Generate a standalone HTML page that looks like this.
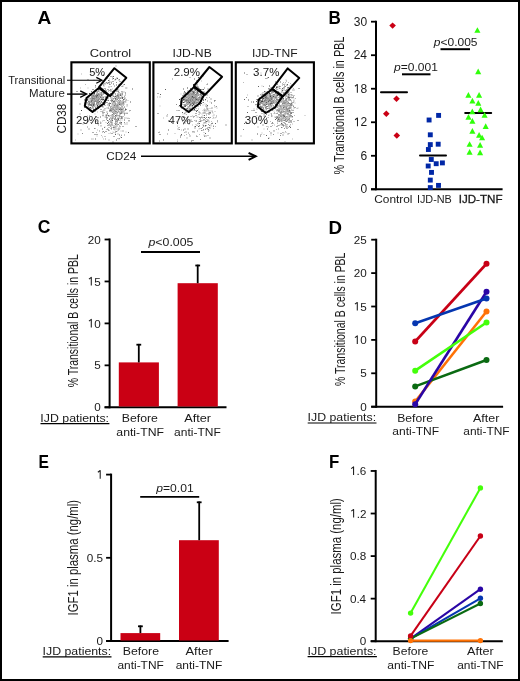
<!DOCTYPE html><html><head><meta charset="utf-8"><style>html,body{margin:0;padding:0;background:#fff;}svg{display:block;will-change:transform;}text{font-family:"Liberation Sans",sans-serif;}</style></head><body>
<svg width="520" height="681" viewBox="0 0 520 681">
<rect x="1" y="1" width="518" height="679" fill="#fff" stroke="#000" stroke-width="2"/>
<text x="37.62" y="23.80" font-size="17.5" textLength="13.80" lengthAdjust="spacingAndGlyphs" fill="#000" font-weight="bold">A</text>
<text x="328.49" y="23.80" font-size="17.5" textLength="12.31" lengthAdjust="spacingAndGlyphs" fill="#000" font-weight="bold">B</text>
<text x="37.70" y="233.40" font-size="17.5" textLength="12.68" lengthAdjust="spacingAndGlyphs" fill="#000" font-weight="bold">C</text>
<text x="328.58" y="233.60" font-size="17.5" textLength="13.50" lengthAdjust="spacingAndGlyphs" fill="#000" font-weight="bold">D</text>
<text x="38.48" y="467.60" font-size="17.5" textLength="10.45" lengthAdjust="spacingAndGlyphs" fill="#000" font-weight="bold">E</text>
<text x="329.00" y="467.60" font-size="17.5" textLength="10.30" lengthAdjust="spacingAndGlyphs" fill="#000" font-weight="bold">F</text>
<line x1="376.00" y1="20.69" x2="376.00" y2="190.30" stroke="#000" stroke-width="2" stroke-linecap="butt"/>
<line x1="371.00" y1="189.30" x2="376.00" y2="189.30" stroke="#000" stroke-width="1.8" stroke-linecap="butt"/>
<text x="360.42" y="193.40" font-size="12" fill="#1a1a1a">0</text>
<line x1="371.00" y1="155.78" x2="376.00" y2="155.78" stroke="#000" stroke-width="1.8" stroke-linecap="butt"/>
<text x="360.48" y="159.88" font-size="12" fill="#1a1a1a">6</text>
<line x1="371.00" y1="122.26" x2="376.00" y2="122.26" stroke="#000" stroke-width="1.8" stroke-linecap="butt"/>
<path d="M357.48,126.36V117.96L355.08,119.76" fill="none" stroke="#1a1a1a" stroke-width="1.05" stroke-linejoin="round"/>
<text x="360.55" y="126.36" font-size="12" fill="#1a1a1a">2</text>
<line x1="371.00" y1="88.73" x2="376.00" y2="88.73" stroke="#000" stroke-width="1.8" stroke-linecap="butt"/>
<path d="M357.36,92.83V84.43L354.96,86.23" fill="none" stroke="#1a1a1a" stroke-width="1.05" stroke-linejoin="round"/>
<text x="360.43" y="92.83" font-size="12" fill="#1a1a1a">8</text>
<line x1="371.00" y1="55.21" x2="376.00" y2="55.21" stroke="#000" stroke-width="1.8" stroke-linecap="butt"/>
<text x="353.64" y="59.31" font-size="12" fill="#1a1a1a">24</text>
<line x1="371.00" y1="21.69" x2="376.00" y2="21.69" stroke="#000" stroke-width="1.8" stroke-linecap="butt"/>
<text x="353.76" y="25.79" font-size="12" fill="#1a1a1a">30</text>
<line x1="371.00" y1="189.30" x2="502.60" y2="189.30" stroke="#000" stroke-width="2" stroke-linecap="butt"/>
<text transform="translate(343.80,174.10) rotate(-90)" x="-0.38" y="0" font-size="14.5" textLength="137.84" lengthAdjust="spacingAndGlyphs" fill="#1a1a1a">% Transitional B cells in PBL</text>
<text x="374.21" y="202.50" font-size="11.5" textLength="38.31" lengthAdjust="spacingAndGlyphs" fill="#1a1a1a">Control</text>
<text x="416.92" y="202.50" font-size="11.5" textLength="34.94" lengthAdjust="spacingAndGlyphs" fill="#1a1a1a">IJD-NB</text>
<text x="458.66" y="202.50" font-size="11.5" textLength="43.83" lengthAdjust="spacingAndGlyphs" fill="#1a1a1a" stroke="#1a1a1a" stroke-width="0.3">IJD-TNF</text>
<text x="394.10" y="70.50" font-size="11.5" textLength="43.73" lengthAdjust="spacingAndGlyphs" fill="#1a1a1a"><tspan font-style="italic">p</tspan>=0.001</text>
<line x1="402.00" y1="74.30" x2="430.50" y2="74.30" stroke="#000" stroke-width="2" stroke-linecap="butt"/>
<text x="433.80" y="45.80" font-size="11.5" textLength="43.71" lengthAdjust="spacingAndGlyphs" fill="#1a1a1a"><tspan font-style="italic">p</tspan>&lt;0.005</text>
<line x1="440.50" y1="49.20" x2="470.00" y2="49.20" stroke="#000" stroke-width="2" stroke-linecap="butt"/>
<line x1="381.00" y1="92.20" x2="407.00" y2="92.20" stroke="#000" stroke-width="2" stroke-linecap="round"/>
<line x1="420.00" y1="155.60" x2="446.00" y2="155.60" stroke="#000" stroke-width="2" stroke-linecap="round"/>
<line x1="465.20" y1="112.90" x2="491.20" y2="112.90" stroke="#000" stroke-width="2" stroke-linecap="round"/>
<path d="M392.6,22.4L395.9,25.6L392.6,28.8L389.3,25.6Z" fill="#ca0014"/>
<path d="M396.5,95.6L399.8,98.8L396.5,102.0L393.2,98.8Z" fill="#ca0014"/>
<path d="M386.3,110.5L389.6,113.7L386.3,116.9L383.0,113.7Z" fill="#ca0014"/>
<path d="M396.8,132.3L400.1,135.5L396.8,138.7L393.5,135.5Z" fill="#ca0014"/>
<rect x="436.15" y="112.95" width="4.9" height="4.9" fill="#0027a6"/>
<rect x="426.65" y="117.55" width="4.9" height="4.9" fill="#0027a6"/>
<rect x="427.85" y="132.35" width="4.9" height="4.9" fill="#0027a6"/>
<rect x="427.85" y="142.15" width="4.9" height="4.9" fill="#0027a6"/>
<rect x="435.75" y="141.75" width="4.9" height="4.9" fill="#0027a6"/>
<rect x="425.95" y="147.05" width="4.9" height="4.9" fill="#0027a6"/>
<rect x="428.85" y="157.05" width="4.9" height="4.9" fill="#0027a6"/>
<rect x="433.75" y="161.25" width="4.9" height="4.9" fill="#0027a6"/>
<rect x="439.95" y="160.45" width="4.9" height="4.9" fill="#0027a6"/>
<rect x="425.75" y="163.55" width="4.9" height="4.9" fill="#0027a6"/>
<rect x="429.05" y="169.95" width="4.9" height="4.9" fill="#0027a6"/>
<rect x="427.85" y="177.65" width="4.9" height="4.9" fill="#0027a6"/>
<rect x="427.85" y="185.15" width="4.9" height="4.9" fill="#0027a6"/>
<rect x="436.05" y="182.95" width="4.9" height="4.9" fill="#0027a6"/>
<path d="M477.40,27.20L480.45,32.85L474.35,32.85Z" fill="#30ff0a"/>
<path d="M478.20,68.60L481.25,74.25L475.15,74.25Z" fill="#30ff0a"/>
<path d="M468.40,92.00L471.45,97.65L465.35,97.65Z" fill="#30ff0a"/>
<path d="M479.10,92.00L482.15,97.65L476.05,97.65Z" fill="#30ff0a"/>
<path d="M472.40,97.80L475.45,103.45L469.35,103.45Z" fill="#30ff0a"/>
<path d="M478.30,100.00L481.35,105.65L475.25,105.65Z" fill="#30ff0a"/>
<path d="M480.60,106.50L483.65,112.15L477.55,112.15Z" fill="#30ff0a"/>
<path d="M472.30,108.50L475.35,114.15L469.25,114.15Z" fill="#30ff0a"/>
<path d="M484.60,112.00L487.65,117.65L481.55,117.65Z" fill="#30ff0a"/>
<path d="M468.50,114.10L471.55,119.75L465.45,119.75Z" fill="#30ff0a"/>
<path d="M472.40,118.10L475.45,123.75L469.35,123.75Z" fill="#30ff0a"/>
<path d="M485.70,123.30L488.75,128.95L482.65,128.95Z" fill="#30ff0a"/>
<path d="M472.40,128.00L475.45,133.65L469.35,133.65Z" fill="#30ff0a"/>
<path d="M479.10,132.10L482.15,137.75L476.05,137.75Z" fill="#30ff0a"/>
<path d="M482.10,134.70L485.15,140.35L479.05,140.35Z" fill="#30ff0a"/>
<path d="M469.60,141.20L472.65,146.85L466.55,146.85Z" fill="#30ff0a"/>
<path d="M480.10,142.10L483.15,147.75L477.05,147.75Z" fill="#30ff0a"/>
<path d="M469.60,149.00L472.65,154.65L466.55,154.65Z" fill="#30ff0a"/>
<path d="M480.10,149.50L483.15,155.15L477.05,155.15Z" fill="#30ff0a"/>
<line x1="109.60" y1="238.50" x2="109.60" y2="408.30" stroke="#000" stroke-width="2" stroke-linecap="butt"/>
<line x1="104.60" y1="407.30" x2="109.60" y2="407.30" stroke="#000" stroke-width="1.8" stroke-linecap="butt"/>
<text x="94.27" y="411.40" font-size="11.7" fill="#1a1a1a">0</text>
<line x1="104.60" y1="365.35" x2="109.60" y2="365.35" stroke="#000" stroke-width="1.8" stroke-linecap="butt"/>
<text x="94.27" y="369.45" font-size="11.7" fill="#1a1a1a">5</text>
<line x1="104.60" y1="323.40" x2="109.60" y2="323.40" stroke="#000" stroke-width="1.8" stroke-linecap="butt"/>
<path d="M91.29,327.50V319.31L88.95,321.06" fill="none" stroke="#1a1a1a" stroke-width="1.05" stroke-linejoin="round"/>
<text x="94.29" y="327.50" font-size="11.7" fill="#1a1a1a">0</text>
<line x1="104.60" y1="281.45" x2="109.60" y2="281.45" stroke="#000" stroke-width="1.8" stroke-linecap="butt"/>
<path d="M91.29,285.55V277.36L88.95,279.12" fill="none" stroke="#1a1a1a" stroke-width="1.05" stroke-linejoin="round"/>
<text x="94.29" y="285.55" font-size="11.7" fill="#1a1a1a">5</text>
<line x1="104.60" y1="239.50" x2="109.60" y2="239.50" stroke="#000" stroke-width="1.8" stroke-linecap="butt"/>
<text x="87.78" y="243.60" font-size="11.7" fill="#1a1a1a">20</text>
<line x1="104.60" y1="407.30" x2="226.50" y2="407.30" stroke="#000" stroke-width="2" stroke-linecap="butt"/>
<text transform="translate(77.80,386.90) rotate(-90)" x="-0.37" y="0" font-size="14.5" textLength="133.01" lengthAdjust="spacingAndGlyphs" fill="#1a1a1a">% Transitional B cells in PBL</text>
<rect x="118.80" y="362.40" width="40.10" height="44.10" fill="#ca0014"/>
<line x1="138.80" y1="362.40" x2="138.80" y2="343.90" stroke="#000" stroke-width="1.8" stroke-linecap="butt"/>
<line x1="136.40" y1="344.70" x2="141.20" y2="344.70" stroke="#000" stroke-width="1.8" stroke-linecap="butt"/>
<rect x="177.60" y="283.20" width="40.20" height="123.30" fill="#ca0014"/>
<line x1="197.70" y1="283.20" x2="197.70" y2="264.70" stroke="#000" stroke-width="1.8" stroke-linecap="butt"/>
<line x1="195.30" y1="265.50" x2="200.10" y2="265.50" stroke="#000" stroke-width="1.8" stroke-linecap="butt"/>
<text x="148.51" y="245.80" font-size="11.5" textLength="44.82" lengthAdjust="spacingAndGlyphs" fill="#1a1a1a"><tspan font-style="italic">p</tspan>&lt;0.005</text>
<line x1="141.00" y1="252.00" x2="200.00" y2="252.00" stroke="#000" stroke-width="1.8" stroke-linecap="butt"/>
<text x="40.39" y="421.80" font-size="11.5" textLength="68.66" lengthAdjust="spacingAndGlyphs" fill="#1a1a1a">IJD patients:</text>
<line x1="40.50" y1="423.70" x2="109.40" y2="423.70" stroke="#000" stroke-width="1.2" stroke-linecap="butt"/>
<text x="121.72" y="422.20" font-size="11.5" textLength="36.15" lengthAdjust="spacingAndGlyphs" fill="#1a1a1a">Before</text>
<text x="116.35" y="435.70" font-size="11.5" textLength="47.63" lengthAdjust="spacingAndGlyphs" fill="#1a1a1a">anti-TNF</text>
<text x="184.24" y="422.20" font-size="11.5" textLength="26.88" lengthAdjust="spacingAndGlyphs" fill="#1a1a1a">After</text>
<text x="174.06" y="435.70" font-size="11.5" textLength="46.71" lengthAdjust="spacingAndGlyphs" fill="#1a1a1a">anti-TNF</text>
<line x1="376.20" y1="238.70" x2="376.20" y2="407.70" stroke="#000" stroke-width="2" stroke-linecap="butt"/>
<line x1="371.20" y1="406.70" x2="376.20" y2="406.70" stroke="#000" stroke-width="1.8" stroke-linecap="butt"/>
<text x="360.27" y="410.80" font-size="11.7" fill="#1a1a1a">0</text>
<line x1="371.20" y1="373.30" x2="376.20" y2="373.30" stroke="#000" stroke-width="1.8" stroke-linecap="butt"/>
<text x="360.27" y="377.40" font-size="11.7" fill="#1a1a1a">5</text>
<line x1="371.20" y1="339.90" x2="376.20" y2="339.90" stroke="#000" stroke-width="1.8" stroke-linecap="butt"/>
<path d="M357.29,344.00V335.81L354.95,337.56" fill="none" stroke="#1a1a1a" stroke-width="1.05" stroke-linejoin="round"/>
<text x="360.29" y="344.00" font-size="11.7" fill="#1a1a1a">0</text>
<line x1="371.20" y1="306.50" x2="376.20" y2="306.50" stroke="#000" stroke-width="1.8" stroke-linecap="butt"/>
<path d="M357.29,310.60V302.41L354.95,304.17" fill="none" stroke="#1a1a1a" stroke-width="1.05" stroke-linejoin="round"/>
<text x="360.29" y="310.60" font-size="11.7" fill="#1a1a1a">5</text>
<line x1="371.20" y1="273.10" x2="376.20" y2="273.10" stroke="#000" stroke-width="1.8" stroke-linecap="butt"/>
<text x="353.78" y="277.20" font-size="11.7" fill="#1a1a1a">20</text>
<line x1="371.20" y1="239.70" x2="376.20" y2="239.70" stroke="#000" stroke-width="1.8" stroke-linecap="butt"/>
<text x="353.78" y="243.80" font-size="11.7" fill="#1a1a1a">25</text>
<line x1="371.20" y1="406.70" x2="503.10" y2="406.70" stroke="#000" stroke-width="2" stroke-linecap="butt"/>
<text transform="translate(344.60,385.70) rotate(-90)" x="-0.37" y="0" font-size="14.5" textLength="133.52" lengthAdjust="spacingAndGlyphs" fill="#1a1a1a">% Transitional B cells in PBL</text>
<text x="307.59" y="421.10" font-size="11.5" textLength="68.56" lengthAdjust="spacingAndGlyphs" fill="#1a1a1a">IJD patients:</text>
<line x1="307.70" y1="423.00" x2="376.50" y2="423.00" stroke="#000" stroke-width="1.2" stroke-linecap="butt"/>
<text x="397.23" y="421.50" font-size="11.5" textLength="35.84" lengthAdjust="spacingAndGlyphs" fill="#1a1a1a">Before</text>
<text x="392.26" y="435.00" font-size="11.5" textLength="46.81" lengthAdjust="spacingAndGlyphs" fill="#1a1a1a">anti-TNF</text>
<text x="473.04" y="421.50" font-size="11.5" textLength="26.37" lengthAdjust="spacingAndGlyphs" fill="#1a1a1a">After</text>
<text x="463.26" y="435.00" font-size="11.5" textLength="46.41" lengthAdjust="spacingAndGlyphs" fill="#1a1a1a">anti-TNF</text>
<line x1="415.20" y1="341.50" x2="486.50" y2="263.75" stroke="#c80016" stroke-width="2.6" stroke-linecap="butt"/>
<circle cx="415.2" cy="341.50" r="3" fill="#c80016"/><circle cx="486.5" cy="263.75" r="3" fill="#c80016"/>
<line x1="415.20" y1="401.49" x2="486.50" y2="311.51" stroke="#ff7205" stroke-width="2.6" stroke-linecap="butt"/>
<circle cx="415.2" cy="401.49" r="3" fill="#ff7205"/><circle cx="486.5" cy="311.51" r="3" fill="#ff7205"/>
<line x1="415.20" y1="386.39" x2="486.50" y2="359.94" stroke="#0a6a12" stroke-width="2.6" stroke-linecap="butt"/>
<circle cx="415.2" cy="386.39" r="3" fill="#0a6a12"/><circle cx="486.5" cy="359.94" r="3" fill="#0a6a12"/>
<line x1="415.20" y1="404.23" x2="486.50" y2="291.80" stroke="#2a06a6" stroke-width="2.6" stroke-linecap="butt"/>
<circle cx="415.2" cy="404.23" r="3" fill="#2a06a6"/><circle cx="486.5" cy="291.80" r="3" fill="#2a06a6"/>
<line x1="415.20" y1="323.20" x2="486.50" y2="298.48" stroke="#0536b0" stroke-width="2.6" stroke-linecap="butt"/>
<circle cx="415.2" cy="323.20" r="3" fill="#0536b0"/><circle cx="486.5" cy="298.48" r="3" fill="#0536b0"/>
<line x1="415.20" y1="370.63" x2="486.50" y2="322.53" stroke="#44ff0a" stroke-width="2.6" stroke-linecap="butt"/>
<circle cx="415.2" cy="370.63" r="3" fill="#44ff0a"/><circle cx="486.5" cy="322.53" r="3" fill="#44ff0a"/>
<line x1="111.10" y1="473.60" x2="111.10" y2="642.00" stroke="#000" stroke-width="2" stroke-linecap="butt"/>
<line x1="106.10" y1="641.00" x2="111.10" y2="641.00" stroke="#000" stroke-width="1.8" stroke-linecap="butt"/>
<text x="96.57" y="645.10" font-size="11.7" fill="#1a1a1a">0</text>
<line x1="106.10" y1="557.80" x2="111.10" y2="557.80" stroke="#000" stroke-width="1.8" stroke-linecap="butt"/>
<text x="86.80" y="561.90" font-size="11.7" fill="#1a1a1a">0.5</text>
<line x1="106.10" y1="474.60" x2="111.10" y2="474.60" stroke="#000" stroke-width="1.8" stroke-linecap="butt"/>
<path d="M100.20,478.70V470.51L97.86,472.27" fill="none" stroke="#1a1a1a" stroke-width="1.05" stroke-linejoin="round"/>
<line x1="106.10" y1="641.00" x2="228.60" y2="641.00" stroke="#000" stroke-width="2" stroke-linecap="butt"/>
<text transform="translate(77.50,614.50) rotate(-90)" x="-1.02" y="0" font-size="14.5" textLength="115.66" lengthAdjust="spacingAndGlyphs" fill="#1a1a1a">IGF1 in plasma (ng/ml)</text>
<rect x="120.50" y="633.10" width="39.70" height="7.40" fill="#ca0014"/>
<line x1="140.40" y1="633.10" x2="140.40" y2="625.50" stroke="#000" stroke-width="1.8" stroke-linecap="butt"/>
<line x1="138.00" y1="626.30" x2="142.80" y2="626.30" stroke="#000" stroke-width="1.8" stroke-linecap="butt"/>
<rect x="179.00" y="540.20" width="39.80" height="100.30" fill="#ca0014"/>
<line x1="199.20" y1="540.20" x2="199.20" y2="501.50" stroke="#000" stroke-width="1.8" stroke-linecap="butt"/>
<line x1="196.80" y1="502.30" x2="201.60" y2="502.30" stroke="#000" stroke-width="1.8" stroke-linecap="butt"/>
<text x="156.30" y="491.90" font-size="11.5" textLength="37.42" lengthAdjust="spacingAndGlyphs" fill="#1a1a1a"><tspan font-style="italic">p</tspan>=0.01</text>
<line x1="140.20" y1="496.90" x2="199.20" y2="496.90" stroke="#000" stroke-width="1.8" stroke-linecap="butt"/>
<text x="42.59" y="655.00" font-size="11.5" textLength="68.56" lengthAdjust="spacingAndGlyphs" fill="#1a1a1a">IJD patients:</text>
<line x1="42.70" y1="656.90" x2="111.50" y2="656.90" stroke="#000" stroke-width="1.2" stroke-linecap="butt"/>
<text x="122.72" y="655.40" font-size="11.5" textLength="36.26" lengthAdjust="spacingAndGlyphs" fill="#1a1a1a">Before</text>
<text x="117.46" y="668.90" font-size="11.5" textLength="46.30" lengthAdjust="spacingAndGlyphs" fill="#1a1a1a">anti-TNF</text>
<text x="185.44" y="655.40" font-size="11.5" textLength="27.28" lengthAdjust="spacingAndGlyphs" fill="#1a1a1a">After</text>
<text x="175.66" y="668.90" font-size="11.5" textLength="46.61" lengthAdjust="spacingAndGlyphs" fill="#1a1a1a">anti-TNF</text>
<line x1="375.70" y1="469.96" x2="375.70" y2="642.20" stroke="#000" stroke-width="2" stroke-linecap="butt"/>
<line x1="370.70" y1="641.20" x2="375.70" y2="641.20" stroke="#000" stroke-width="1.8" stroke-linecap="butt"/>
<text x="359.77" y="645.30" font-size="11.7" fill="#1a1a1a">0</text>
<line x1="370.70" y1="598.64" x2="375.70" y2="598.64" stroke="#000" stroke-width="1.8" stroke-linecap="butt"/>
<text x="349.89" y="602.74" font-size="11.7" fill="#1a1a1a">0.4</text>
<line x1="370.70" y1="556.08" x2="375.70" y2="556.08" stroke="#000" stroke-width="1.8" stroke-linecap="butt"/>
<text x="350.00" y="560.18" font-size="11.7" fill="#1a1a1a">0.8</text>
<line x1="370.70" y1="513.52" x2="375.70" y2="513.52" stroke="#000" stroke-width="1.8" stroke-linecap="butt"/>
<path d="M353.63,517.62V509.43L351.29,511.19" fill="none" stroke="#1a1a1a" stroke-width="1.05" stroke-linejoin="round"/>
<text x="356.63" y="517.62" font-size="11.7" fill="#1a1a1a">.</text>
<text x="359.88" y="517.62" font-size="11.7" fill="#1a1a1a">2</text>
<line x1="370.70" y1="470.96" x2="375.70" y2="470.96" stroke="#000" stroke-width="1.8" stroke-linecap="butt"/>
<path d="M353.57,475.06V466.87L351.23,468.63" fill="none" stroke="#1a1a1a" stroke-width="1.05" stroke-linejoin="round"/>
<text x="356.57" y="475.06" font-size="11.7" fill="#1a1a1a">.</text>
<text x="359.82" y="475.06" font-size="11.7" fill="#1a1a1a">6</text>
<line x1="370.70" y1="641.20" x2="502.80" y2="641.20" stroke="#000" stroke-width="2" stroke-linecap="butt"/>
<text transform="translate(341.00,613.40) rotate(-90)" x="-1.03" y="0" font-size="14.5" textLength="116.27" lengthAdjust="spacingAndGlyphs" fill="#1a1a1a">IGF1 in plasma (ng/ml)</text>
<text x="307.48" y="654.80" font-size="11.5" textLength="69.08" lengthAdjust="spacingAndGlyphs" fill="#1a1a1a">IJD patients:</text>
<line x1="307.60" y1="656.70" x2="376.90" y2="656.70" stroke="#000" stroke-width="1.2" stroke-linecap="butt"/>
<text x="392.53" y="655.20" font-size="11.5" textLength="35.84" lengthAdjust="spacingAndGlyphs" fill="#1a1a1a">Before</text>
<text x="387.26" y="668.70" font-size="11.5" textLength="47.02" lengthAdjust="spacingAndGlyphs" fill="#1a1a1a">anti-TNF</text>
<text x="467.14" y="655.20" font-size="11.5" textLength="26.58" lengthAdjust="spacingAndGlyphs" fill="#1a1a1a">After</text>
<text x="457.16" y="668.70" font-size="11.5" textLength="46.41" lengthAdjust="spacingAndGlyphs" fill="#1a1a1a">anti-TNF</text>
<line x1="410.60" y1="613.10" x2="480.40" y2="487.90" stroke="#44ff0a" stroke-width="2.05" stroke-linecap="butt"/>
<circle cx="410.6" cy="613.10" r="2.7" fill="#44ff0a"/><circle cx="480.4" cy="487.90" r="2.7" fill="#44ff0a"/>
<line x1="410.60" y1="638.70" x2="480.40" y2="589.20" stroke="#2a06a6" stroke-width="2.05" stroke-linecap="butt"/>
<circle cx="410.6" cy="638.70" r="2.7" fill="#2a06a6"/><circle cx="480.4" cy="589.20" r="2.7" fill="#2a06a6"/>
<line x1="410.60" y1="638.70" x2="480.40" y2="598.30" stroke="#0536b0" stroke-width="2.05" stroke-linecap="butt"/>
<circle cx="410.6" cy="638.70" r="2.7" fill="#0536b0"/><circle cx="480.4" cy="598.30" r="2.7" fill="#0536b0"/>
<line x1="410.60" y1="638.70" x2="480.40" y2="603.50" stroke="#0a6a12" stroke-width="2.05" stroke-linecap="butt"/>
<circle cx="410.6" cy="638.70" r="2.7" fill="#0a6a12"/><circle cx="480.4" cy="603.50" r="2.7" fill="#0a6a12"/>
<line x1="410.60" y1="635.90" x2="480.40" y2="536.00" stroke="#c80016" stroke-width="2.05" stroke-linecap="butt"/>
<circle cx="410.6" cy="635.90" r="2.7" fill="#c80016"/><circle cx="480.4" cy="536.00" r="2.7" fill="#c80016"/>
<line x1="410.60" y1="640.60" x2="480.40" y2="640.60" stroke="#ff7205" stroke-width="2.05" stroke-linecap="butt"/>
<circle cx="410.6" cy="640.60" r="2.7" fill="#ff7205"/><circle cx="480.4" cy="640.60" r="2.7" fill="#ff7205"/>
<path d="M96.5 100.5h1v1h-1zM92.5 98h1v1h-1zM91.5 98.5h1v1h-1zM92.5 99.5h1v1h-1zM91 105h1v1h-1zM98 102.5h1v1h-1zM100 97h1v1h-1zM97 102h1v1h-1zM100.5 92.5h1v1h-1zM94 91.5h1v1h-1zM93.5 100.5h1v1h-1zM95 98.5h1v1h-1zM92.5 98.5h1v1h-1zM91 101h1v1h-1zM98 100.5h1v1h-1zM100.5 97h1v1h-1zM90.5 94.5h1v1h-1zM89 110h1v1h-1zM92.5 95h1v1h-1zM93 97.5h1v1h-1zM93.5 97.5h1v1h-1zM101 95h1v1h-1zM101 92h1v1h-1zM98.5 90.5h1v1h-1zM93.5 98.5h1v1h-1zM98 96.5h1v1h-1zM97.5 106h1v1h-1zM107.5 97.5h1v1h-1zM87 99h1v1h-1zM84 99.5h1v1h-1zM97 99h1v1h-1zM90 107h1v1h-1zM98 99.5h1v1h-1zM92.5 95.5h1v1h-1zM96 100.5h1v1h-1zM97.5 104h1v1h-1zM90.5 93.5h1v1h-1zM81 110h1v1h-1zM88.5 101h1v1h-1zM96 99.5h1v1h-1zM93 105h1v1h-1zM96 103.5h1v1h-1zM97 98.5h1v1h-1zM93.5 96.5h1v1h-1zM94.5 100h1v1h-1zM92 111h1v1h-1zM102 99h1v1h-1zM97 106.5h1v1h-1zM95 101h1v1h-1zM88.5 104.5h1v1h-1zM101.5 93.5h1v1h-1zM93.5 97h1v1h-1zM92.5 104.5h1v1h-1zM103.5 92.5h1v1h-1zM97.5 100h1v1h-1zM102.5 103.5h1v1h-1zM89.5 107h1v1h-1zM84.5 102.5h1v1h-1zM101 99h1v1h-1zM104 104h1v1h-1zM91 104h1v1h-1zM93.5 96h1v1h-1zM103 99h1v1h-1zM93.5 100h1v1h-1zM97 104h1v1h-1zM94.5 98.5h1v1h-1zM94 104h1v1h-1zM95.5 100.5h1v1h-1zM97.5 94h1v1h-1zM96 94.5h1v1h-1zM101.5 90h1v1h-1zM92 106.5h1v1h-1zM95.5 95h1v1h-1zM91 96.5h1v1h-1zM87.5 97.5h1v1h-1zM94 101h1v1h-1zM95.5 100h1v1h-1zM103.5 93h1v1h-1zM93.5 99h1v1h-1zM90.5 105h1v1h-1zM89.5 95h1v1h-1zM94 99h1v1h-1zM94 93h1v1h-1zM98.5 99h1v1h-1zM99.5 99h1v1h-1zM93 94.5h1v1h-1zM101 101.5h1v1h-1zM89 93h1v1h-1zM89 102.5h1v1h-1zM100.5 94h1v1h-1zM94 103.5h1v1h-1zM95 95.5h1v1h-1zM92.5 89h1v1h-1zM96.5 102h1v1h-1zM101.5 96.5h1v1h-1zM99 101h1v1h-1zM95 100h1v1h-1zM100 103h1v1h-1zM91.5 102.5h1v1h-1zM96.5 91.5h1v1h-1zM93 104h1v1h-1zM97 96.5h1v1h-1zM93 103.5h1v1h-1zM97 105h1v1h-1zM96 96h1v1h-1zM97 95h1v1h-1z" fill="#444"/>
<path d="M99.5 103.5h1v1h-1zM94 96.5h1v1h-1zM97.5 102h1v1h-1zM89 103h1v1h-1zM84.5 103h1v1h-1zM96 98.5h1v1h-1zM84 107h1v1h-1zM98.5 93.5h1v1h-1zM91 104.5h1v1h-1zM98 90.5h1v1h-1zM98 108h1v1h-1zM96 93.5h1v1h-1zM97 102.5h1v1h-1zM95.5 97.5h1v1h-1zM93.5 96h1v1h-1zM88.5 102h1v1h-1zM103 97.5h1v1h-1zM97 98h1v1h-1zM92.5 97.5h1v1h-1zM97.5 102h1v1h-1zM97.5 101.5h1v1h-1zM91.5 105.5h1v1h-1zM102 106h1v1h-1zM95 96.5h1v1h-1zM95 98h1v1h-1zM90.5 108h1v1h-1zM99 94.5h1v1h-1zM100 96.5h1v1h-1zM92 101.5h1v1h-1zM93.5 102h1v1h-1zM90.5 108h1v1h-1zM94 104h1v1h-1zM93.5 101.5h1v1h-1zM100.5 93.5h1v1h-1zM97 98.5h1v1h-1zM102.5 97.5h1v1h-1zM96 97h1v1h-1zM93 106.5h1v1h-1zM95 101h1v1h-1zM93 97.5h1v1h-1zM96.5 101h1v1h-1zM90 101.5h1v1h-1zM89.5 101h1v1h-1zM95 97h1v1h-1zM101 88.5h1v1h-1zM99.5 96.5h1v1h-1zM96 103.5h1v1h-1zM98 102h1v1h-1zM99 98.5h1v1h-1zM95.5 105.5h1v1h-1zM90 104h1v1h-1zM92.5 96h1v1h-1zM91 91h1v1h-1zM99 98h1v1h-1zM96 98.5h1v1h-1zM94 98.5h1v1h-1zM91.5 98h1v1h-1zM93.5 100.5h1v1h-1zM94 104h1v1h-1zM94 102.5h1v1h-1zM94.5 100h1v1h-1zM88 101h1v1h-1zM90 98h1v1h-1zM91 101.5h1v1h-1zM94.5 100.5h1v1h-1zM87 100h1v1h-1zM99.5 102h1v1h-1zM86.5 103.5h1v1h-1zM94 95.5h1v1h-1zM94 105.5h1v1h-1zM103 97h1v1h-1zM92 97.5h1v1h-1zM106 90.5h1v1h-1zM93 107.5h1v1h-1zM92.5 100h1v1h-1zM98 102.5h1v1h-1zM89.5 105h1v1h-1zM91 99.5h1v1h-1zM93 97h1v1h-1zM91.5 95h1v1h-1zM97 91.5h1v1h-1zM90.5 100.5h1v1h-1zM96.5 95.5h1v1h-1zM86.5 98.5h1v1h-1zM103 92.5h1v1h-1zM96.5 99.5h1v1h-1zM97 94h1v1h-1zM89 103.5h1v1h-1zM95 86.5h1v1h-1zM97.5 93h1v1h-1zM95 107.5h1v1h-1zM92.5 102.5h1v1h-1zM91.5 100h1v1h-1zM98 97.5h1v1h-1zM90.5 99.5h1v1h-1zM97 99h1v1h-1zM88.5 103h1v1h-1zM96.5 100h1v1h-1zM92 98.5h1v1h-1zM97 99.5h1v1h-1zM94 99h1v1h-1zM98 100h1v1h-1zM101.5 104h1v1h-1zM102.5 94h1v1h-1zM92 97h1v1h-1zM98 94h1v1h-1zM101 101h1v1h-1zM90.5 107.5h1v1h-1zM96.5 101h1v1h-1zM91.5 99.5h1v1h-1zM100.5 97.5h1v1h-1zM93.5 101.5h1v1h-1zM101.5 97.5h1v1h-1zM99.5 95.5h1v1h-1zM98.5 93.5h1v1h-1zM94.5 96h1v1h-1zM96.5 100h1v1h-1zM92 103.5h1v1h-1zM96 101h1v1h-1z" fill="#7a7a7a"/>
<path d="M99 99h1v1h-1zM87.5 105.5h1v1h-1zM96 100.5h1v1h-1zM88.5 104h1v1h-1zM90 101h1v1h-1zM93 101.5h1v1h-1zM96.5 99.5h1v1h-1zM97.5 101h1v1h-1zM93 101.5h1v1h-1zM102.5 100h1v1h-1zM93.5 101h1v1h-1zM93.5 100h1v1h-1zM98.5 105h1v1h-1zM102.5 97.5h1v1h-1zM97 104h1v1h-1zM84 100h1v1h-1zM94.5 100h1v1h-1zM100 99h1v1h-1zM91.5 103h1v1h-1zM93.5 96.5h1v1h-1zM92 105h1v1h-1zM94 105h1v1h-1zM104.5 99.5h1v1h-1zM95 99h1v1h-1zM90 98.5h1v1h-1zM93.5 100.5h1v1h-1zM88 102.5h1v1h-1zM92.5 104.5h1v1h-1zM96 100h1v1h-1zM88.5 100h1v1h-1zM93 100h1v1h-1zM95.5 100.5h1v1h-1zM92.5 107.5h1v1h-1zM99.5 96h1v1h-1zM100 100h1v1h-1zM101.5 99.5h1v1h-1zM100 100.5h1v1h-1zM97 94h1v1h-1zM98 102.5h1v1h-1zM88.5 98.5h1v1h-1zM88 96.5h1v1h-1zM101.5 95h1v1h-1zM101 96.5h1v1h-1zM106.5 98h1v1h-1zM101.5 96.5h1v1h-1zM99.5 104.5h1v1h-1zM92.5 100.5h1v1h-1zM95 100.5h1v1h-1zM103.5 96h1v1h-1zM98 98h1v1h-1zM98 102.5h1v1h-1zM94.5 105.5h1v1h-1zM103 104h1v1h-1zM99 92.5h1v1h-1zM104 100.5h1v1h-1zM98.5 100.5h1v1h-1zM99.5 104h1v1h-1zM97.5 93.5h1v1h-1zM96.5 98h1v1h-1zM96.5 99h1v1h-1zM98.5 98h1v1h-1zM91 95.5h1v1h-1zM92.5 99h1v1h-1zM95 97h1v1h-1zM92.5 97h1v1h-1zM99.5 94.5h1v1h-1zM97.5 97.5h1v1h-1zM99 96.5h1v1h-1zM97.5 100.5h1v1h-1zM93 92.5h1v1h-1zM100.5 94h1v1h-1zM101 92.5h1v1h-1zM92.5 94.5h1v1h-1zM96.5 104h1v1h-1zM95 95.5h1v1h-1zM91.5 102h1v1h-1zM88.5 99.5h1v1h-1zM98 95.5h1v1h-1zM100.5 92h1v1h-1zM97 98h1v1h-1zM96.5 102h1v1h-1zM88 106h1v1h-1zM89.5 101.5h1v1h-1zM92 105h1v1h-1zM95.5 95.5h1v1h-1zM97 99h1v1h-1zM87 102.5h1v1h-1zM98.5 95.5h1v1h-1zM91 103.5h1v1h-1zM99 103.5h1v1h-1zM93 97h1v1h-1zM96.5 98.5h1v1h-1zM93.5 99h1v1h-1zM93.5 96h1v1h-1zM92.5 101.5h1v1h-1zM100.5 97h1v1h-1zM91.5 108h1v1h-1zM94 94h1v1h-1zM98 98.5h1v1h-1zM97.5 102h1v1h-1zM97 97.5h1v1h-1zM88 104.5h1v1h-1zM85.5 107h1v1h-1zM93.5 102h1v1h-1zM103 102.5h1v1h-1zM104.5 102.5h1v1h-1zM99.5 104h1v1h-1zM97 103h1v1h-1zM89.5 97.5h1v1h-1zM94.5 104h1v1h-1zM95.5 98.5h1v1h-1zM98 94.5h1v1h-1zM110 97.5h1v1h-1zM102 94h1v1h-1zM85.5 101.5h1v1h-1z" fill="#aaa"/>
<path d="M119.5 107.5h1v1h-1zM115.5 95.5h1v1h-1zM114.5 106.5h1v1h-1zM116.5 89h1v1h-1zM117.5 117.5h1v1h-1zM120.5 104h1v1h-1zM112 107.5h1v1h-1zM122 98h1v1h-1zM115 115.5h1v1h-1zM117.5 109.5h1v1h-1zM120 109h1v1h-1zM119.5 103h1v1h-1zM116 119.5h1v1h-1zM115 121.5h1v1h-1zM115 96h1v1h-1zM114.5 112.5h1v1h-1zM118.5 108h1v1h-1zM115 103.5h1v1h-1zM119.5 122h1v1h-1zM112 115h1v1h-1zM116 113.5h1v1h-1zM121.5 106h1v1h-1zM113.5 98h1v1h-1zM118 119.5h1v1h-1zM115.5 119.5h1v1h-1zM117 107.5h1v1h-1zM115.5 105.5h1v1h-1zM119 104h1v1h-1zM124 119.5h1v1h-1zM114.5 104h1v1h-1zM119 109h1v1h-1zM109 105h1v1h-1zM106.5 111.5h1v1h-1zM118 128h1v1h-1zM115 117.5h1v1h-1zM113.5 105h1v1h-1zM114 119h1v1h-1zM114 100.5h1v1h-1zM110.5 100h1v1h-1zM113.5 113.5h1v1h-1zM123 100.5h1v1h-1zM107 95h1v1h-1zM116 105.5h1v1h-1zM117.5 111.5h1v1h-1zM113.5 109.5h1v1h-1zM119 98.5h1v1h-1zM113.5 116h1v1h-1zM117.5 107h1v1h-1zM112.5 107.5h1v1h-1zM115 134h1v1h-1zM115.5 113h1v1h-1zM115 90h1v1h-1zM112 114h1v1h-1zM118 97h1v1h-1zM115 108.5h1v1h-1zM110 125.5h1v1h-1zM113.5 107.5h1v1h-1zM113.5 102h1v1h-1zM122 93.5h1v1h-1zM117 89h1v1h-1zM116.5 106h1v1h-1zM113 112.5h1v1h-1zM115 115h1v1h-1zM125 108.5h1v1h-1zM114 104.5h1v1h-1zM121 122h1v1h-1zM116 111.5h1v1h-1zM114.5 118h1v1h-1zM121.5 112.5h1v1h-1zM106.5 100h1v1h-1zM116 95.5h1v1h-1zM111 110.5h1v1h-1zM130 101.5h1v1h-1zM119 102h1v1h-1zM123.5 110.5h1v1h-1zM111.5 95h1v1h-1zM121.5 107.5h1v1h-1zM116 109h1v1h-1zM118 102.5h1v1h-1zM109 110.5h1v1h-1zM122.5 102h1v1h-1zM106 99h1v1h-1zM116.5 125.5h1v1h-1zM118 111h1v1h-1zM109 123.5h1v1h-1zM125 109.5h1v1h-1zM117.5 90.5h1v1h-1zM120.5 97.5h1v1h-1zM115 93.5h1v1h-1zM110 93h1v1h-1zM111 100.5h1v1h-1zM119.5 93.5h1v1h-1zM112 114h1v1h-1zM119.5 102h1v1h-1zM107.5 104.5h1v1h-1zM111 118.5h1v1h-1zM118.5 95.5h1v1h-1zM122.5 126h1v1h-1zM114.5 118h1v1h-1zM117.5 115h1v1h-1zM109.5 103h1v1h-1zM110.5 106h1v1h-1zM112.5 109h1v1h-1zM114 97.5h1v1h-1zM125 92.5h1v1h-1zM124.5 101.5h1v1h-1zM113.5 113h1v1h-1zM115 134h1v1h-1zM109.5 94h1v1h-1zM124 98.5h1v1h-1zM119.5 108h1v1h-1zM115 98h1v1h-1zM117 95h1v1h-1zM110.5 120.5h1v1h-1zM124 113.5h1v1h-1zM113.5 112.5h1v1h-1zM121.5 117h1v1h-1zM115.5 107h1v1h-1zM132 88.5h1v1h-1zM121 113h1v1h-1zM124 106.5h1v1h-1zM113.5 125.5h1v1h-1zM118 96.5h1v1h-1zM123.5 112.5h1v1h-1zM117 109h1v1h-1zM117 101.5h1v1h-1zM120 113h1v1h-1zM113 109h1v1h-1zM118 86h1v1h-1zM115.5 110.5h1v1h-1zM124 84h1v1h-1zM114 96.5h1v1h-1zM119 101.5h1v1h-1zM117.5 98h1v1h-1zM117.5 118h1v1h-1zM113.5 105.5h1v1h-1zM113.5 102h1v1h-1zM115.5 115.5h1v1h-1zM117 105.5h1v1h-1zM106.5 117h1v1h-1zM116 105.5h1v1h-1zM120 94.5h1v1h-1zM121 103.5h1v1h-1zM115.5 104.5h1v1h-1zM116 95.5h1v1h-1zM123 103.5h1v1h-1zM113 111.5h1v1h-1zM121 112.5h1v1h-1zM121 122.5h1v1h-1zM115 124h1v1h-1zM119.5 112.5h1v1h-1zM120.5 84h1v1h-1zM108 115h1v1h-1zM115 117h1v1h-1zM113.5 101h1v1h-1zM114 105h1v1h-1zM121 117.5h1v1h-1zM123 99h1v1h-1zM111.5 133h1v1h-1zM118.5 128.5h1v1h-1zM120 95h1v1h-1zM118 118.5h1v1h-1zM115.5 97.5h1v1h-1zM122 97h1v1h-1zM106 118.5h1v1h-1zM114 104.5h1v1h-1zM121.5 95.5h1v1h-1zM118 91.5h1v1h-1zM126.5 113h1v1h-1zM123 102.5h1v1h-1zM121.5 86h1v1h-1zM121.5 118h1v1h-1zM113 127h1v1h-1zM112 100h1v1h-1zM117 118.5h1v1h-1zM113 114.5h1v1h-1zM117 105.5h1v1h-1zM119.5 103.5h1v1h-1zM117 119.5h1v1h-1zM116 120.5h1v1h-1zM116 111.5h1v1h-1zM115 131.5h1v1h-1zM120 122.5h1v1h-1zM110.5 109.5h1v1h-1zM117 104.5h1v1h-1zM125.5 87.5h1v1h-1zM120 98h1v1h-1zM117.5 91h1v1h-1zM115.5 119h1v1h-1zM116 90.5h1v1h-1zM114 107h1v1h-1zM115.5 108.5h1v1h-1zM117.5 94h1v1h-1zM118 110h1v1h-1zM108 100h1v1h-1zM115 102.5h1v1h-1zM121.5 91h1v1h-1zM115 111h1v1h-1zM110.5 122h1v1h-1zM121.5 111.5h1v1h-1zM124 96h1v1h-1zM120.5 110.5h1v1h-1zM128.5 120h1v1h-1zM105 96.5h1v1h-1zM102 111.5h1v1h-1zM113.5 136h1v1h-1zM98 107.5h1v1h-1zM95 138.5h1v1h-1zM105.5 115.5h1v1h-1zM104 127h1v1h-1zM109.5 110h1v1h-1zM110 108.5h1v1h-1zM100 96.5h1v1h-1zM111 108h1v1h-1zM110 103h1v1h-1zM107 123h1v1h-1zM108 107.5h1v1h-1zM97.5 117h1v1h-1zM110.5 110.5h1v1h-1zM129.5 110h1v1h-1zM122.5 130.5h1v1h-1zM109 119h1v1h-1zM88.5 104h1v1h-1zM107.5 89h1v1h-1zM116.5 121h1v1h-1zM98 123h1v1h-1zM107 120h1v1h-1zM102.5 115h1v1h-1zM102 128.5h1v1h-1zM107.5 125h1v1h-1zM108 122h1v1h-1zM111 127.5h1v1h-1zM119.5 116h1v1h-1zM112 91h1v1h-1zM88 120.5h1v1h-1zM118 106h1v1h-1zM105.5 131h1v1h-1zM95.5 116h1v1h-1zM106.5 102h1v1h-1zM108.5 103h1v1h-1zM103.5 112h1v1h-1zM121 137h1v1h-1zM107 120h1v1h-1zM96.5 134h1v1h-1zM103.5 109.5h1v1h-1zM116 139.5h1v1h-1zM100.5 109h1v1h-1zM111.5 108h1v1h-1zM113 96h1v1h-1zM117.5 120h1v1h-1zM111.5 118.5h1v1h-1zM117 96.5h1v1h-1zM94 118h1v1h-1zM113 101h1v1h-1zM112.5 141.5h1v1h-1zM98 93.5h1v1h-1zM112 120h1v1h-1zM117 122h1v1h-1zM114 97h1v1h-1zM100 122.5h1v1h-1zM135.5 126h1v1h-1zM114 101h1v1h-1zM101.5 98.5h1v1h-1zM95 121h1v1h-1zM108 129.5h1v1h-1zM113.5 92.5h1v1h-1zM128 132h1v1h-1zM105.5 97h1v1h-1zM116 98.5h1v1h-1zM110 107h1v1h-1zM100 116.5h1v1h-1zM98 89h1v1h-1zM95 122.5h1v1h-1zM108.5 82h1v1h-1zM113 76h1v1h-1zM115 79h1v1h-1zM105 89.5h1v1h-1zM116.5 77.5h1v1h-1zM107.5 82.5h1v1h-1zM112.5 81h1v1h-1zM109.5 90h1v1h-1zM118.5 79.5h1v1h-1zM103 84.5h1v1h-1zM116 84.5h1v1h-1zM113 83.5h1v1h-1zM108.5 86.5h1v1h-1zM111 82.5h1v1h-1zM109 75h1v1h-1zM119.5 81h1v1h-1zM113 78h1v1h-1zM110.5 76h1v1h-1zM104.5 83.5h1v1h-1zM108 80h1v1h-1zM104.5 88h1v1h-1zM108.5 124h1v1h-1zM88.5 128.5h1v1h-1zM119 115.5h1v1h-1zM94.5 134h1v1h-1zM107.5 76h1v1h-1zM95.5 120.5h1v1h-1zM97.5 102h1v1h-1zM79.5 103.5h1v1h-1zM93 109h1v1h-1zM113.5 112.5h1v1h-1zM76.5 91h1v1h-1zM92.5 132h1v1h-1zM99 79.5h1v1h-1zM106 115h1v1h-1zM121 109h1v1h-1zM102.5 106.5h1v1h-1zM119 134.5h1v1h-1zM103 74.5h1v1h-1zM90.5 122h1v1h-1zM108 75.5h1v1h-1zM120 100h1v1h-1zM117 78h1v1h-1z" fill="#606060"/>
<path d="M117 121h1v1h-1zM114 118.5h1v1h-1zM115.5 108.5h1v1h-1zM116 123h1v1h-1zM125.5 117.5h1v1h-1zM118.5 105.5h1v1h-1zM117.5 107h1v1h-1zM125 94.5h1v1h-1zM106.5 117.5h1v1h-1zM120 110h1v1h-1zM109.5 121h1v1h-1zM122.5 107.5h1v1h-1zM120.5 101.5h1v1h-1zM115 102.5h1v1h-1zM121.5 111h1v1h-1zM117.5 133.5h1v1h-1zM113.5 128.5h1v1h-1zM120 107.5h1v1h-1zM123.5 84h1v1h-1zM120.5 97h1v1h-1zM112.5 112h1v1h-1zM118.5 120h1v1h-1zM116 109h1v1h-1zM114.5 113h1v1h-1zM113 112h1v1h-1zM117.5 105h1v1h-1zM115.5 111h1v1h-1zM114 85.5h1v1h-1zM110.5 111h1v1h-1zM112 114.5h1v1h-1zM121 105h1v1h-1zM110.5 109h1v1h-1zM113 98.5h1v1h-1zM116.5 96h1v1h-1zM106 115.5h1v1h-1zM124 122h1v1h-1zM115 120.5h1v1h-1zM119 101h1v1h-1zM124 134.5h1v1h-1zM127.5 118h1v1h-1zM111.5 107.5h1v1h-1zM121 112.5h1v1h-1zM119 112.5h1v1h-1zM111 122.5h1v1h-1zM118 100h1v1h-1zM115.5 100.5h1v1h-1zM108 107h1v1h-1zM121 116h1v1h-1zM111.5 99.5h1v1h-1zM126.5 123.5h1v1h-1zM117 112h1v1h-1zM112 108.5h1v1h-1zM117.5 88.5h1v1h-1zM117 107.5h1v1h-1zM117.5 115.5h1v1h-1zM121.5 103h1v1h-1zM118.5 102.5h1v1h-1zM113 107.5h1v1h-1zM111 98.5h1v1h-1zM111.5 94.5h1v1h-1zM109.5 115h1v1h-1zM117.5 115.5h1v1h-1zM122.5 116h1v1h-1zM116 97.5h1v1h-1zM121 101.5h1v1h-1zM118.5 107.5h1v1h-1zM123 108.5h1v1h-1zM119.5 122.5h1v1h-1zM118 124h1v1h-1zM120.5 108h1v1h-1zM119 122.5h1v1h-1zM115.5 111.5h1v1h-1zM120.5 113h1v1h-1zM119.5 100h1v1h-1zM111.5 102.5h1v1h-1zM109.5 109.5h1v1h-1zM114 127h1v1h-1zM119 115h1v1h-1zM109 104h1v1h-1zM104.5 136h1v1h-1zM118.5 128.5h1v1h-1zM111.5 124h1v1h-1zM118 95h1v1h-1zM123 108.5h1v1h-1zM111 109h1v1h-1zM125 100.5h1v1h-1zM113 94.5h1v1h-1zM121 135h1v1h-1zM120.5 105h1v1h-1zM114.5 103.5h1v1h-1zM120.5 93h1v1h-1zM118 106h1v1h-1zM116.5 121.5h1v1h-1zM113.5 111h1v1h-1zM115 103h1v1h-1zM119 138h1v1h-1zM120.5 108.5h1v1h-1zM117 99h1v1h-1zM115.5 103.5h1v1h-1zM124 114.5h1v1h-1zM117.5 138h1v1h-1zM113.5 100.5h1v1h-1zM108.5 130h1v1h-1zM108.5 116h1v1h-1zM115 123.5h1v1h-1zM111.5 109.5h1v1h-1zM112 118h1v1h-1zM119 79h1v1h-1zM113 96h1v1h-1zM113 107h1v1h-1zM126 109h1v1h-1zM112 102.5h1v1h-1zM119.5 116h1v1h-1zM116.5 105h1v1h-1zM116.5 89.5h1v1h-1zM114.5 123h1v1h-1zM112.5 98h1v1h-1zM119.5 100.5h1v1h-1zM122.5 103h1v1h-1zM116 131h1v1h-1zM116.5 124h1v1h-1zM115.5 103.5h1v1h-1zM112.5 111h1v1h-1zM115 99h1v1h-1zM115.5 121h1v1h-1zM110.5 124.5h1v1h-1zM122 92.5h1v1h-1zM107 113h1v1h-1zM111 100.5h1v1h-1zM116.5 115h1v1h-1zM120.5 97.5h1v1h-1zM121.5 94h1v1h-1zM116 115.5h1v1h-1zM113.5 109h1v1h-1zM105.5 114.5h1v1h-1zM113 117.5h1v1h-1zM108 120.5h1v1h-1zM117.5 93h1v1h-1zM115.5 99.5h1v1h-1zM121.5 110h1v1h-1zM112.5 103.5h1v1h-1zM113 111.5h1v1h-1zM116.5 121h1v1h-1zM112 104h1v1h-1zM126 99.5h1v1h-1zM122 100.5h1v1h-1zM113.5 129h1v1h-1zM118 109.5h1v1h-1zM114 110h1v1h-1zM118 97.5h1v1h-1zM115.5 103.5h1v1h-1zM112 95h1v1h-1zM116.5 96.5h1v1h-1zM121 112h1v1h-1zM122 109h1v1h-1zM119.5 114h1v1h-1zM118.5 111h1v1h-1zM115.5 119h1v1h-1zM116.5 105.5h1v1h-1zM126.5 105.5h1v1h-1zM112 112h1v1h-1zM119 97h1v1h-1zM116.5 107.5h1v1h-1zM113.5 102.5h1v1h-1zM124.5 123.5h1v1h-1zM126.5 112.5h1v1h-1zM117 124h1v1h-1zM110.5 128h1v1h-1zM117 103.5h1v1h-1zM123.5 97h1v1h-1zM118.5 94.5h1v1h-1zM110.5 118h1v1h-1zM119 117.5h1v1h-1zM116 116h1v1h-1zM118.5 94.5h1v1h-1zM112 116.5h1v1h-1zM111.5 99h1v1h-1zM110 96h1v1h-1zM116 82h1v1h-1zM118 100h1v1h-1zM112 108.5h1v1h-1zM112.5 111.5h1v1h-1zM94.5 94.5h1v1h-1zM94.5 128h1v1h-1zM112.5 117.5h1v1h-1zM119 125.5h1v1h-1zM96.5 117h1v1h-1zM106.5 107.5h1v1h-1zM114.5 110h1v1h-1zM94 128h1v1h-1zM98 124.5h1v1h-1zM111 89.5h1v1h-1zM99 106.5h1v1h-1zM114 110.5h1v1h-1zM100.5 122.5h1v1h-1zM110.5 120h1v1h-1zM84.5 116h1v1h-1zM105 102.5h1v1h-1zM105.5 117h1v1h-1zM102.5 113.5h1v1h-1zM118 129.5h1v1h-1zM109 102.5h1v1h-1zM89 115.5h1v1h-1zM108.5 139.5h1v1h-1zM124 96h1v1h-1zM111 128.5h1v1h-1zM101 105.5h1v1h-1zM100 103h1v1h-1zM106.5 92.5h1v1h-1zM90.5 102.5h1v1h-1zM107 114.5h1v1h-1zM103 131h1v1h-1zM111.5 116.5h1v1h-1zM107 83h1v1h-1zM112.5 108.5h1v1h-1zM124.5 98.5h1v1h-1zM104.5 108h1v1h-1zM122.5 85.5h1v1h-1zM114 106.5h1v1h-1zM104.5 105h1v1h-1zM110.5 91h1v1h-1zM95 107h1v1h-1zM117.5 107h1v1h-1zM112 123.5h1v1h-1zM99 130.5h1v1h-1zM102 131.5h1v1h-1zM105 138.5h1v1h-1zM80.5 129.5h1v1h-1zM107 128.5h1v1h-1zM117 120h1v1h-1zM95.5 119.5h1v1h-1zM106 102h1v1h-1zM123.5 91.5h1v1h-1zM108.5 127h1v1h-1zM109.5 115h1v1h-1zM103.5 120h1v1h-1zM114.5 101.5h1v1h-1zM112 117.5h1v1h-1zM109 104h1v1h-1zM121 124h1v1h-1zM102.5 112.5h1v1h-1zM115.5 128.5h1v1h-1zM113 90h1v1h-1zM117 109h1v1h-1zM100.5 125.5h1v1h-1zM96.5 94h1v1h-1zM100.5 84.5h1v1h-1zM112 78.5h1v1h-1zM106 82h1v1h-1zM114.5 79.5h1v1h-1zM110.5 81.5h1v1h-1zM102 91.5h1v1h-1zM103.5 83h1v1h-1zM109 84h1v1h-1zM109 80.5h1v1h-1zM109 82.5h1v1h-1zM105.5 82.5h1v1h-1zM110 89h1v1h-1zM95.5 91h1v1h-1zM115.5 65.5h1v1h-1zM103.5 85.5h1v1h-1zM115.5 78.5h1v1h-1zM112 76.5h1v1h-1zM106.5 129h1v1h-1zM102 102h1v1h-1zM102.5 110.5h1v1h-1zM85.5 101h1v1h-1zM92.5 138.5h1v1h-1zM92 96.5h1v1h-1zM82.5 123.5h1v1h-1zM115.5 105.5h1v1h-1zM98.5 73.5h1v1h-1zM95 85h1v1h-1zM87.5 79h1v1h-1zM82 133h1v1h-1zM111.5 122h1v1h-1zM108 90.5h1v1h-1zM100 96h1v1h-1zM94.5 91.5h1v1h-1zM87 126.5h1v1h-1zM100.5 111h1v1h-1zM79.5 113.5h1v1h-1zM112 116h1v1h-1zM86.5 102h1v1h-1zM104 132h1v1h-1z" fill="#909090"/>
<path d="M112.5 115h1v1h-1zM112 124h1v1h-1zM127.5 117.5h1v1h-1zM114.5 107h1v1h-1zM117 121.5h1v1h-1zM111 117.5h1v1h-1zM118 110h1v1h-1zM126 99h1v1h-1zM116 113.5h1v1h-1zM112 110h1v1h-1zM111 120.5h1v1h-1zM125.5 131.5h1v1h-1zM115 116.5h1v1h-1zM121.5 108h1v1h-1zM123 111h1v1h-1zM113.5 111h1v1h-1zM115.5 100.5h1v1h-1zM111.5 104h1v1h-1zM120 121.5h1v1h-1zM117 108.5h1v1h-1zM112.5 117h1v1h-1zM126.5 87.5h1v1h-1zM119.5 116.5h1v1h-1zM110 107.5h1v1h-1zM112 119h1v1h-1zM125.5 113h1v1h-1zM114.5 100h1v1h-1zM112 88.5h1v1h-1zM111 125.5h1v1h-1zM111.5 115h1v1h-1zM115.5 107.5h1v1h-1zM117.5 109.5h1v1h-1zM115 127.5h1v1h-1zM108.5 104.5h1v1h-1zM126.5 122h1v1h-1zM120 118h1v1h-1zM111 117.5h1v1h-1zM112.5 106.5h1v1h-1zM108.5 124h1v1h-1zM107.5 107.5h1v1h-1zM113.5 116.5h1v1h-1zM110 111h1v1h-1zM118 106h1v1h-1zM114.5 106h1v1h-1zM115.5 103.5h1v1h-1zM113 106h1v1h-1zM115 116.5h1v1h-1zM118.5 100.5h1v1h-1zM123 100h1v1h-1zM107.5 99.5h1v1h-1zM124.5 112.5h1v1h-1zM116 120h1v1h-1zM120.5 102h1v1h-1zM113 106.5h1v1h-1zM122 103.5h1v1h-1zM119.5 102h1v1h-1zM107.5 103.5h1v1h-1zM118 104.5h1v1h-1zM108.5 106h1v1h-1zM120 121.5h1v1h-1zM120.5 124h1v1h-1zM116.5 106.5h1v1h-1zM120 119.5h1v1h-1zM122.5 111.5h1v1h-1zM123 105h1v1h-1zM121 123.5h1v1h-1zM121.5 92h1v1h-1zM116 98h1v1h-1zM117 118.5h1v1h-1zM116.5 121.5h1v1h-1zM126.5 104h1v1h-1zM119.5 100.5h1v1h-1zM121 103.5h1v1h-1zM112.5 110h1v1h-1zM115.5 116h1v1h-1zM114 113.5h1v1h-1zM118 120h1v1h-1zM109 125h1v1h-1zM112 121.5h1v1h-1zM118 127.5h1v1h-1zM115 126h1v1h-1zM112.5 110h1v1h-1zM122 91h1v1h-1zM119.5 110.5h1v1h-1zM118.5 138.5h1v1h-1zM124 95.5h1v1h-1zM111 108.5h1v1h-1zM117 130.5h1v1h-1zM121 106.5h1v1h-1zM116.5 95.5h1v1h-1zM110.5 111.5h1v1h-1zM120 101.5h1v1h-1zM119 126h1v1h-1zM121.5 119.5h1v1h-1zM120.5 100.5h1v1h-1zM103 138.5h1v1h-1zM118 84h1v1h-1zM109 108.5h1v1h-1zM112.5 106h1v1h-1zM114.5 129.5h1v1h-1zM123 100h1v1h-1zM111.5 105h1v1h-1zM119 98.5h1v1h-1zM120 100.5h1v1h-1zM120 112h1v1h-1zM118.5 127.5h1v1h-1zM121 105h1v1h-1zM102 136.5h1v1h-1zM125 97.5h1v1h-1zM119 92h1v1h-1zM112.5 104h1v1h-1zM119.5 115.5h1v1h-1zM118.5 107.5h1v1h-1zM114 97h1v1h-1zM120.5 104h1v1h-1zM124 117.5h1v1h-1zM124 106h1v1h-1zM119 122.5h1v1h-1zM114 106.5h1v1h-1zM117 113.5h1v1h-1zM119 113h1v1h-1zM115 109.5h1v1h-1zM110.5 115.5h1v1h-1zM113.5 125.5h1v1h-1zM123.5 110h1v1h-1zM121.5 119.5h1v1h-1zM117 100.5h1v1h-1zM118.5 89.5h1v1h-1zM110 117h1v1h-1zM114.5 112.5h1v1h-1zM122 116h1v1h-1zM115 132.5h1v1h-1zM120.5 104.5h1v1h-1zM115.5 107.5h1v1h-1zM118.5 95.5h1v1h-1zM121 95h1v1h-1zM114 102.5h1v1h-1zM122 104.5h1v1h-1zM112.5 111.5h1v1h-1zM112.5 109.5h1v1h-1zM116 126.5h1v1h-1zM119 97h1v1h-1zM127 104.5h1v1h-1zM115 102h1v1h-1zM117.5 115h1v1h-1zM110.5 106.5h1v1h-1zM118 104h1v1h-1zM110.5 93.5h1v1h-1zM114.5 109h1v1h-1zM111.5 96.5h1v1h-1zM114 98h1v1h-1zM121 86h1v1h-1zM121.5 110h1v1h-1zM117.5 109.5h1v1h-1zM113 105h1v1h-1zM127.5 100h1v1h-1zM111 121h1v1h-1zM125.5 101.5h1v1h-1zM109.5 118.5h1v1h-1zM118 101.5h1v1h-1zM117 123.5h1v1h-1zM121.5 91.5h1v1h-1zM118 120h1v1h-1zM112 93h1v1h-1zM121 83.5h1v1h-1zM111.5 115.5h1v1h-1zM118 110.5h1v1h-1zM123.5 104h1v1h-1zM122.5 100.5h1v1h-1zM112.5 116h1v1h-1zM110.5 120h1v1h-1zM115.5 111.5h1v1h-1zM111 114.5h1v1h-1zM116.5 101h1v1h-1zM119.5 98h1v1h-1zM116 120h1v1h-1zM120 126h1v1h-1zM117 119h1v1h-1zM113.5 132h1v1h-1zM118 128.5h1v1h-1zM106 114h1v1h-1zM109.5 124h1v1h-1zM123.5 103h1v1h-1zM121 106h1v1h-1zM117.5 106.5h1v1h-1zM115.5 112h1v1h-1zM117 102h1v1h-1zM117 101.5h1v1h-1zM119 108h1v1h-1zM112.5 115.5h1v1h-1zM115.5 107.5h1v1h-1zM112 104h1v1h-1zM114 104h1v1h-1zM113 114h1v1h-1zM117 97h1v1h-1zM120 109.5h1v1h-1zM116 112.5h1v1h-1zM119.5 111.5h1v1h-1zM112 125h1v1h-1zM124 101h1v1h-1zM112 101h1v1h-1zM111.5 127h1v1h-1zM121 96.5h1v1h-1zM117.5 128.5h1v1h-1zM123.5 103h1v1h-1zM129 110.5h1v1h-1zM113.5 104h1v1h-1zM118.5 106.5h1v1h-1zM116 116h1v1h-1zM119.5 127.5h1v1h-1zM117 122h1v1h-1zM114.5 106h1v1h-1zM116.5 113h1v1h-1zM109 118h1v1h-1zM110.5 111.5h1v1h-1zM112.5 131.5h1v1h-1zM118.5 97h1v1h-1zM113 112h1v1h-1zM120.5 130.5h1v1h-1zM111 120h1v1h-1zM94.5 109.5h1v1h-1zM115.5 105.5h1v1h-1zM116 123.5h1v1h-1zM105.5 122h1v1h-1zM101 135h1v1h-1zM95 111h1v1h-1zM114 118.5h1v1h-1zM106.5 118h1v1h-1zM113.5 127.5h1v1h-1zM116.5 128.5h1v1h-1zM108.5 133h1v1h-1zM97 111.5h1v1h-1zM87 115.5h1v1h-1zM128.5 121h1v1h-1zM112 105.5h1v1h-1zM102.5 115.5h1v1h-1zM97.5 117.5h1v1h-1zM111.5 114.5h1v1h-1zM100.5 125h1v1h-1zM115.5 125h1v1h-1zM104.5 109.5h1v1h-1zM115.5 118.5h1v1h-1zM129 118h1v1h-1zM115 126.5h1v1h-1zM93.5 97.5h1v1h-1zM109.5 123.5h1v1h-1zM104.5 116.5h1v1h-1zM114.5 104.5h1v1h-1zM97 129.5h1v1h-1zM102 120.5h1v1h-1zM96 116h1v1h-1zM106 97.5h1v1h-1zM94.5 113.5h1v1h-1zM110.5 125h1v1h-1zM110 132.5h1v1h-1zM120 136.5h1v1h-1zM112 96.5h1v1h-1zM104.5 126.5h1v1h-1zM102.5 98h1v1h-1zM101.5 111h1v1h-1zM98.5 93h1v1h-1zM111 86h1v1h-1zM108 107h1v1h-1zM100 121.5h1v1h-1zM97.5 123.5h1v1h-1zM109 124.5h1v1h-1zM96 132h1v1h-1zM111 123h1v1h-1zM91 138.5h1v1h-1zM112.5 108h1v1h-1zM104.5 97.5h1v1h-1zM105 77h1v1h-1zM110 84h1v1h-1zM102 94.5h1v1h-1zM109 75h1v1h-1zM109 78.5h1v1h-1zM110.5 86h1v1h-1zM107 78h1v1h-1zM102.5 88h1v1h-1zM93.5 79.5h1v1h-1zM119 83.5h1v1h-1zM102.5 105.5h1v1h-1zM77.5 133.5h1v1h-1zM120 121.5h1v1h-1zM80 87.5h1v1h-1zM92.5 93.5h1v1h-1zM96.5 135.5h1v1h-1zM94.5 72.5h1v1h-1zM95 98.5h1v1h-1zM78.5 119.5h1v1h-1zM111 93h1v1h-1zM90.5 72.5h1v1h-1zM110.5 97h1v1h-1zM106 76h1v1h-1zM114 114h1v1h-1zM75 139.5h1v1h-1zM87.5 87.5h1v1h-1zM121 134.5h1v1h-1zM93 107h1v1h-1zM85 84h1v1h-1zM107 75h1v1h-1zM81 73.5h1v1h-1zM97 78h1v1h-1zM89 97.5h1v1h-1z" fill="#bbbbbb"/>
<path d="M200.5 91.5h1v1h-1zM190.5 105.5h1v1h-1zM194.5 94h1v1h-1zM183.5 99.5h1v1h-1zM196 99h1v1h-1zM189.5 103.5h1v1h-1zM188.5 99.5h1v1h-1zM189.5 94.5h1v1h-1zM196 99.5h1v1h-1zM194.5 105.5h1v1h-1zM189.5 98h1v1h-1zM193 96.5h1v1h-1zM195.5 103h1v1h-1zM201.5 89h1v1h-1zM192.5 98.5h1v1h-1zM190.5 104h1v1h-1zM195 97h1v1h-1zM196 96h1v1h-1zM183.5 98.5h1v1h-1zM194 101h1v1h-1zM187.5 100.5h1v1h-1zM184.5 104h1v1h-1zM198.5 97h1v1h-1zM192.5 103h1v1h-1zM192.5 97h1v1h-1zM183 102h1v1h-1zM194 96h1v1h-1zM194 88.5h1v1h-1zM183 99h1v1h-1zM186.5 96.5h1v1h-1zM199.5 98h1v1h-1zM188 102.5h1v1h-1zM191 101h1v1h-1zM191.5 98h1v1h-1zM190.5 97.5h1v1h-1zM192.5 102h1v1h-1zM191.5 98h1v1h-1zM190.5 95h1v1h-1zM189 90.5h1v1h-1zM193 100.5h1v1h-1zM187.5 100.5h1v1h-1zM193 99h1v1h-1zM198.5 97h1v1h-1zM194 97.5h1v1h-1zM193.5 102.5h1v1h-1zM190 102h1v1h-1zM194 101h1v1h-1zM189.5 103h1v1h-1zM191 99h1v1h-1zM189 108.5h1v1h-1zM190 99h1v1h-1zM191 100h1v1h-1zM192 105h1v1h-1zM184.5 98.5h1v1h-1zM193 84h1v1h-1zM194.5 99h1v1h-1zM185.5 99.5h1v1h-1zM183.5 96h1v1h-1zM188.5 97.5h1v1h-1zM186 102.5h1v1h-1zM194 102.5h1v1h-1zM192.5 96h1v1h-1zM194.5 97.5h1v1h-1zM187 93.5h1v1h-1zM189 105.5h1v1h-1zM190.5 101h1v1h-1zM183.5 93.5h1v1h-1zM193 99h1v1h-1zM187.5 106.5h1v1h-1zM195.5 98h1v1h-1zM194.5 96.5h1v1h-1zM191.5 98.5h1v1h-1zM186 99h1v1h-1zM197 92.5h1v1h-1zM193 104h1v1h-1zM194 96.5h1v1h-1zM190 104h1v1h-1zM200 89h1v1h-1zM190.5 96h1v1h-1zM190.5 100.5h1v1h-1zM195 99h1v1h-1zM188.5 93h1v1h-1zM192.5 95h1v1h-1zM180.5 105h1v1h-1zM183.5 102h1v1h-1zM190 97.5h1v1h-1zM194.5 95.5h1v1h-1zM191.5 94h1v1h-1zM187 87.5h1v1h-1zM184.5 101h1v1h-1zM200 91h1v1h-1zM190.5 104h1v1h-1zM197 91.5h1v1h-1zM200.5 101h1v1h-1zM203.5 91.5h1v1h-1zM185 100h1v1h-1zM187.5 108.5h1v1h-1zM193.5 101h1v1h-1zM194.5 97.5h1v1h-1zM185 97h1v1h-1zM198 100.5h1v1h-1zM203 100h1v1h-1zM193 97.5h1v1h-1zM195.5 94.5h1v1h-1zM192.5 91h1v1h-1zM193 91h1v1h-1zM192.5 103h1v1h-1zM188.5 100.5h1v1h-1zM196.5 85.5h1v1h-1zM197 98.5h1v1h-1zM179 99h1v1h-1zM188.5 102h1v1h-1zM201 95.5h1v1h-1zM188.5 97.5h1v1h-1zM179 105h1v1h-1zM193.5 101h1v1h-1zM189.5 98h1v1h-1zM199 97h1v1h-1zM185 92.5h1v1h-1zM188 98h1v1h-1zM188 94.5h1v1h-1zM185 96.5h1v1h-1zM193.5 92h1v1h-1zM189 99h1v1h-1zM194 93.5h1v1h-1zM194.5 101.5h1v1h-1zM188.5 99.5h1v1h-1zM192 93.5h1v1h-1zM181.5 100.5h1v1h-1zM197.5 94.5h1v1h-1zM199 99h1v1h-1zM197.5 99h1v1h-1zM192 96h1v1h-1zM193.5 104.5h1v1h-1zM188.5 98h1v1h-1zM195.5 88h1v1h-1zM194.5 96.5h1v1h-1zM194 109h1v1h-1zM192 100.5h1v1h-1zM185.5 105h1v1h-1zM193 92h1v1h-1zM193 93h1v1h-1zM189 98.5h1v1h-1zM191.5 90.5h1v1h-1zM200 91h1v1h-1zM194 100.5h1v1h-1zM193 98.5h1v1h-1zM183.5 108h1v1h-1zM192 92.5h1v1h-1zM196 93.5h1v1h-1zM189.5 102h1v1h-1zM193.5 97.5h1v1h-1zM187 99.5h1v1h-1zM197.5 86.5h1v1h-1zM192 102.5h1v1h-1zM188.5 96h1v1h-1zM194.5 101h1v1h-1zM187 96h1v1h-1zM187 94h1v1h-1zM192 98.5h1v1h-1zM187 99.5h1v1h-1zM191.5 98.5h1v1h-1zM186.5 99.5h1v1h-1zM193 97.5h1v1h-1zM191 97.5h1v1h-1zM193.5 97.5h1v1h-1zM189.5 97.5h1v1h-1zM198.5 88h1v1h-1zM201 94.5h1v1h-1zM194.5 100.5h1v1h-1zM194.5 99h1v1h-1zM186.5 108h1v1h-1zM193 94h1v1h-1zM184 105.5h1v1h-1zM185 96h1v1h-1zM201 103h1v1h-1zM186 100.5h1v1h-1zM196.5 102h1v1h-1zM194 91h1v1h-1z" fill="#444"/>
<path d="M188.5 97h1v1h-1zM190.5 102.5h1v1h-1zM191 96.5h1v1h-1zM199.5 104h1v1h-1zM188 100h1v1h-1zM192.5 98.5h1v1h-1zM193.5 101h1v1h-1zM196 95.5h1v1h-1zM191 97h1v1h-1zM199.5 94h1v1h-1zM193 97.5h1v1h-1zM196.5 98.5h1v1h-1zM188.5 96.5h1v1h-1zM188.5 106.5h1v1h-1zM193.5 96h1v1h-1zM196 100.5h1v1h-1zM197 102h1v1h-1zM187 99.5h1v1h-1zM187.5 101.5h1v1h-1zM189.5 94.5h1v1h-1zM196.5 94.5h1v1h-1zM185 100h1v1h-1zM193.5 95h1v1h-1zM191 93.5h1v1h-1zM194 103.5h1v1h-1zM192.5 93h1v1h-1zM184 96.5h1v1h-1zM196 91.5h1v1h-1zM196.5 93h1v1h-1zM194 92.5h1v1h-1zM198 94h1v1h-1zM192.5 95h1v1h-1zM181.5 102h1v1h-1zM189.5 95h1v1h-1zM189 99h1v1h-1zM193.5 101.5h1v1h-1zM185.5 97.5h1v1h-1zM188 102h1v1h-1zM193.5 101.5h1v1h-1zM190 95.5h1v1h-1zM197.5 87h1v1h-1zM199 104h1v1h-1zM194 96h1v1h-1zM187.5 103h1v1h-1zM186.5 101h1v1h-1zM191 96h1v1h-1zM189.5 95h1v1h-1zM191 100.5h1v1h-1zM193.5 96.5h1v1h-1zM184 105.5h1v1h-1zM181 101.5h1v1h-1zM184.5 94h1v1h-1zM190.5 95.5h1v1h-1zM190 97h1v1h-1zM199 99h1v1h-1zM184.5 92h1v1h-1zM196 94h1v1h-1zM201 97.5h1v1h-1zM197.5 90.5h1v1h-1zM188.5 98.5h1v1h-1zM190.5 100.5h1v1h-1zM197 95.5h1v1h-1zM202 96h1v1h-1zM185 105h1v1h-1zM196.5 97.5h1v1h-1zM183 95.5h1v1h-1zM193.5 96.5h1v1h-1zM190 101h1v1h-1zM191.5 101h1v1h-1zM190 93.5h1v1h-1zM191.5 98h1v1h-1zM197.5 91h1v1h-1zM183.5 106h1v1h-1zM187.5 96h1v1h-1zM190.5 90.5h1v1h-1zM199 97h1v1h-1zM182.5 100h1v1h-1zM188.5 101h1v1h-1zM191 99h1v1h-1zM189.5 97.5h1v1h-1zM194.5 99h1v1h-1zM194 95.5h1v1h-1zM187.5 99.5h1v1h-1zM187 101.5h1v1h-1zM196 93h1v1h-1zM187.5 93.5h1v1h-1zM192 98h1v1h-1zM190.5 103.5h1v1h-1zM193 93h1v1h-1zM190 105h1v1h-1zM189.5 93h1v1h-1zM197.5 100h1v1h-1zM186.5 97h1v1h-1zM195 90h1v1h-1zM194.5 87.5h1v1h-1zM196.5 91.5h1v1h-1zM186.5 104.5h1v1h-1zM200 94h1v1h-1zM189 97h1v1h-1zM184 91h1v1h-1zM192 97h1v1h-1zM191 101h1v1h-1zM196 98h1v1h-1zM190 91.5h1v1h-1zM190.5 90h1v1h-1zM185.5 97.5h1v1h-1zM181 107.5h1v1h-1zM191.5 91.5h1v1h-1zM187 95.5h1v1h-1zM193.5 97h1v1h-1zM190.5 102h1v1h-1zM190 102h1v1h-1zM188.5 99h1v1h-1zM190.5 107.5h1v1h-1zM196.5 100.5h1v1h-1zM197.5 93h1v1h-1zM192 97.5h1v1h-1zM195.5 97.5h1v1h-1zM185.5 93h1v1h-1zM194 98.5h1v1h-1zM192.5 91.5h1v1h-1zM195 100.5h1v1h-1zM192.5 100h1v1h-1zM188 95.5h1v1h-1zM188.5 99.5h1v1h-1zM195.5 89h1v1h-1zM192.5 101h1v1h-1zM191 99h1v1h-1zM185.5 100h1v1h-1zM189 105h1v1h-1zM187.5 98.5h1v1h-1zM194 90.5h1v1h-1zM185.5 100.5h1v1h-1zM200.5 97h1v1h-1zM188.5 101h1v1h-1zM190 88h1v1h-1zM190 99h1v1h-1zM195.5 102h1v1h-1zM180.5 101h1v1h-1zM192.5 91.5h1v1h-1zM190 100h1v1h-1zM200.5 95.5h1v1h-1zM187.5 94h1v1h-1zM191 103h1v1h-1zM195.5 97h1v1h-1zM187.5 104h1v1h-1zM187.5 102h1v1h-1zM190 99h1v1h-1zM181 98.5h1v1h-1zM191.5 100.5h1v1h-1zM195 99.5h1v1h-1zM198 95h1v1h-1zM188.5 94.5h1v1h-1zM194.5 96.5h1v1h-1zM186.5 96.5h1v1h-1zM194.5 97.5h1v1h-1zM187 102h1v1h-1zM189.5 97h1v1h-1zM190 94h1v1h-1zM198.5 99h1v1h-1zM191.5 89.5h1v1h-1zM201 100.5h1v1h-1zM195 97.5h1v1h-1zM188.5 94h1v1h-1zM194.5 97h1v1h-1zM195.5 96.5h1v1h-1zM194 88.5h1v1h-1zM189.5 95h1v1h-1z" fill="#7a7a7a"/>
<path d="M185.5 96h1v1h-1zM194 94.5h1v1h-1zM193 99h1v1h-1zM186.5 94.5h1v1h-1zM197.5 101h1v1h-1zM194 100.5h1v1h-1zM199 96.5h1v1h-1zM188.5 96.5h1v1h-1zM193 95.5h1v1h-1zM185.5 102.5h1v1h-1zM190.5 103.5h1v1h-1zM196.5 98h1v1h-1zM190 101.5h1v1h-1zM205 99.5h1v1h-1zM199.5 94.5h1v1h-1zM193 96h1v1h-1zM187 90.5h1v1h-1zM193 99.5h1v1h-1zM194.5 91.5h1v1h-1zM184 100.5h1v1h-1zM192 95h1v1h-1zM190 97h1v1h-1zM191.5 104h1v1h-1zM198 94h1v1h-1zM192.5 93.5h1v1h-1zM190 93.5h1v1h-1zM189 96h1v1h-1zM194 104h1v1h-1zM185 98h1v1h-1zM188.5 96.5h1v1h-1zM193.5 86.5h1v1h-1zM192 98.5h1v1h-1zM188.5 95h1v1h-1zM198 92.5h1v1h-1zM187 101h1v1h-1zM203 99.5h1v1h-1zM191 99h1v1h-1zM189 103h1v1h-1zM194.5 100.5h1v1h-1zM194 100.5h1v1h-1zM188.5 106.5h1v1h-1zM186.5 102.5h1v1h-1zM192 101h1v1h-1zM193 101.5h1v1h-1zM200 92.5h1v1h-1zM197.5 101.5h1v1h-1zM196.5 92.5h1v1h-1zM180.5 102h1v1h-1zM190.5 98h1v1h-1zM187.5 99.5h1v1h-1zM190 96.5h1v1h-1zM196 96.5h1v1h-1zM191 94h1v1h-1zM196 96h1v1h-1zM192.5 101.5h1v1h-1zM184 92h1v1h-1zM190 97h1v1h-1zM192 93.5h1v1h-1zM195 105h1v1h-1zM188 94.5h1v1h-1zM192.5 99h1v1h-1zM188 102.5h1v1h-1zM185 97h1v1h-1zM192 98h1v1h-1zM182 95h1v1h-1zM190.5 102.5h1v1h-1zM189.5 94h1v1h-1zM185.5 101h1v1h-1zM196.5 94.5h1v1h-1zM186.5 94.5h1v1h-1zM191 99h1v1h-1zM195.5 97h1v1h-1zM182.5 104h1v1h-1zM194 96h1v1h-1zM198 108.5h1v1h-1zM186.5 94h1v1h-1zM187 97.5h1v1h-1zM185.5 99.5h1v1h-1zM190 94.5h1v1h-1zM201.5 94h1v1h-1zM192.5 90h1v1h-1zM191.5 94h1v1h-1zM198 98h1v1h-1zM196.5 96.5h1v1h-1zM194 94h1v1h-1zM191 96.5h1v1h-1zM188 96h1v1h-1zM190.5 92h1v1h-1zM186.5 98.5h1v1h-1zM194 100.5h1v1h-1zM193.5 91h1v1h-1zM196.5 95h1v1h-1zM199.5 100h1v1h-1zM186 98.5h1v1h-1zM188.5 95h1v1h-1zM183.5 92.5h1v1h-1zM193.5 98h1v1h-1zM188.5 103.5h1v1h-1zM189.5 95.5h1v1h-1zM192.5 94.5h1v1h-1zM196 100h1v1h-1zM187 96h1v1h-1zM189 93h1v1h-1zM191.5 95h1v1h-1zM197 94h1v1h-1zM188 97.5h1v1h-1zM185 94.5h1v1h-1zM192 93.5h1v1h-1zM194 98h1v1h-1zM188 106.5h1v1h-1zM200.5 95h1v1h-1zM193.5 99h1v1h-1zM194.5 99.5h1v1h-1zM200.5 91.5h1v1h-1zM187 92.5h1v1h-1zM203 94.5h1v1h-1zM194.5 95.5h1v1h-1zM181 99h1v1h-1zM195.5 93.5h1v1h-1zM195 92h1v1h-1zM192.5 99h1v1h-1zM183.5 100h1v1h-1zM189.5 98.5h1v1h-1zM189 98h1v1h-1zM198 102h1v1h-1zM195 101.5h1v1h-1zM186 104.5h1v1h-1zM192.5 89.5h1v1h-1zM183.5 95h1v1h-1zM190.5 95h1v1h-1zM197 104.5h1v1h-1zM192 93h1v1h-1zM191 100h1v1h-1zM193.5 94.5h1v1h-1zM189.5 96.5h1v1h-1zM199 98.5h1v1h-1zM189 100.5h1v1h-1zM197 98.5h1v1h-1zM190.5 105h1v1h-1zM192 100h1v1h-1zM186 102.5h1v1h-1zM191 99.5h1v1h-1zM195.5 97.5h1v1h-1zM194 100h1v1h-1zM204 94h1v1h-1zM188 96.5h1v1h-1zM188.5 99h1v1h-1zM190.5 102h1v1h-1zM194.5 104h1v1h-1zM199.5 95h1v1h-1zM191.5 101h1v1h-1zM192 92h1v1h-1zM194.5 99h1v1h-1z" fill="#aaa"/>
<path d="M205 120.5h1v1h-1zM199.5 121h1v1h-1zM205.5 109.5h1v1h-1zM195.5 113h1v1h-1zM211 102.5h1v1h-1zM206 121h1v1h-1zM205 99h1v1h-1zM204 136h1v1h-1zM207.5 120h1v1h-1zM215 123h1v1h-1zM205 129h1v1h-1zM203.5 112.5h1v1h-1zM202.5 117h1v1h-1zM200 93.5h1v1h-1zM204 117h1v1h-1zM197.5 123h1v1h-1zM196 120.5h1v1h-1zM200.5 103h1v1h-1zM208 129h1v1h-1zM193.5 116h1v1h-1zM208.5 127h1v1h-1zM210 112.5h1v1h-1zM217 120.5h1v1h-1zM209.5 127.5h1v1h-1zM205.5 135.5h1v1h-1zM203 89h1v1h-1zM203.5 122.5h1v1h-1zM209.5 137.5h1v1h-1zM203 125h1v1h-1zM208 117h1v1h-1zM196 110.5h1v1h-1zM199 123h1v1h-1zM197 110h1v1h-1zM199.5 96.5h1v1h-1zM209.5 112h1v1h-1zM208 130.5h1v1h-1zM204 115h1v1h-1zM204 117h1v1h-1zM214.5 100h1v1h-1zM212 123h1v1h-1zM204.5 111.5h1v1h-1zM199.5 112.5h1v1h-1zM200 117.5h1v1h-1zM205 125h1v1h-1zM203 102h1v1h-1zM203 125.5h1v1h-1zM208.5 113.5h1v1h-1zM207 105h1v1h-1zM225.5 124.5h1v1h-1zM205.5 105.5h1v1h-1zM210.5 98.5h1v1h-1zM205 133h1v1h-1zM214 100.5h1v1h-1zM211.5 107.5h1v1h-1zM200 120.5h1v1h-1zM190 108.5h1v1h-1zM183 88.5h1v1h-1zM191.5 121h1v1h-1zM183 129.5h1v1h-1zM185 106h1v1h-1zM166.5 115.5h1v1h-1zM184 109h1v1h-1zM196.5 136h1v1h-1zM190.5 119.5h1v1h-1zM187.5 128.5h1v1h-1zM180.5 135h1v1h-1zM193 107.5h1v1h-1zM181 134h1v1h-1zM194.5 110h1v1h-1zM185.5 131.5h1v1h-1zM187 117.5h1v1h-1zM192.5 131.5h1v1h-1zM196.5 80h1v1h-1zM184.5 122.5h1v1h-1zM186 120.5h1v1h-1zM208.5 112.5h1v1h-1zM191 140.5h1v1h-1zM191.5 93.5h1v1h-1zM198 126h1v1h-1zM182 120.5h1v1h-1zM198.5 111.5h1v1h-1zM185.5 111.5h1v1h-1zM192 106.5h1v1h-1zM188.5 91.5h1v1h-1zM182 112h1v1h-1zM203.5 119h1v1h-1zM183 117h1v1h-1zM180 136.5h1v1h-1zM194.5 127.5h1v1h-1zM184.5 128.5h1v1h-1zM196 111h1v1h-1zM192.5 140h1v1h-1zM195 126h1v1h-1zM192 99.5h1v1h-1zM178.5 110h1v1h-1zM168 120.5h1v1h-1zM188.5 90.5h1v1h-1zM160 94h1v1h-1zM198 77h1v1h-1zM163 139.5h1v1h-1zM157.5 93h1v1h-1zM165 89h1v1h-1zM157.5 113h1v1h-1zM158.5 132h1v1h-1zM159.5 134h1v1h-1zM195.5 120.5h1v1h-1zM189.5 135.5h1v1h-1zM168 129.5h1v1h-1zM207.5 88.5h1v1h-1zM194 78.5h1v1h-1zM171 122h1v1h-1zM195.5 115h1v1h-1z" fill="#606060"/>
<path d="M206 107.5h1v1h-1zM216 106h1v1h-1zM195.5 108h1v1h-1zM197.5 106h1v1h-1zM211 123h1v1h-1zM203 129h1v1h-1zM213 125.5h1v1h-1zM199 117h1v1h-1zM207.5 109.5h1v1h-1zM208.5 110.5h1v1h-1zM201 117h1v1h-1zM204.5 122h1v1h-1zM200 139h1v1h-1zM202.5 130h1v1h-1zM214.5 106.5h1v1h-1zM206.5 113h1v1h-1zM202.5 112.5h1v1h-1zM200 105h1v1h-1zM209 125h1v1h-1zM199 125h1v1h-1zM206.5 128h1v1h-1zM206.5 119h1v1h-1zM216 115.5h1v1h-1zM204.5 92.5h1v1h-1zM207 127.5h1v1h-1zM204 110h1v1h-1zM201 128h1v1h-1zM206.5 107.5h1v1h-1zM213.5 114.5h1v1h-1zM197 130.5h1v1h-1zM208 124h1v1h-1zM205.5 122.5h1v1h-1zM201.5 116.5h1v1h-1zM207 108.5h1v1h-1zM208.5 113.5h1v1h-1zM206.5 106h1v1h-1zM206.5 94.5h1v1h-1zM208.5 121.5h1v1h-1zM202.5 124.5h1v1h-1zM210 117h1v1h-1zM203 99h1v1h-1zM199 125.5h1v1h-1zM198.5 114h1v1h-1zM213 126h1v1h-1zM202 127h1v1h-1zM199.5 128h1v1h-1zM210.5 110.5h1v1h-1zM202.5 102h1v1h-1zM207 100.5h1v1h-1zM212 111.5h1v1h-1zM203 119.5h1v1h-1zM210.5 124.5h1v1h-1zM199.5 119h1v1h-1zM200 103.5h1v1h-1zM204 135.5h1v1h-1zM196.5 125h1v1h-1zM183 123.5h1v1h-1zM179 129h1v1h-1zM183.5 104.5h1v1h-1zM204 87.5h1v1h-1zM178.5 129h1v1h-1zM189 111.5h1v1h-1zM196 135.5h1v1h-1zM188 132.5h1v1h-1zM205 118h1v1h-1zM184.5 112.5h1v1h-1zM201 130h1v1h-1zM192.5 131h1v1h-1zM176.5 110h1v1h-1zM190.5 116h1v1h-1zM176 104h1v1h-1zM187 118.5h1v1h-1zM187.5 120.5h1v1h-1zM194 131.5h1v1h-1zM159 140.5h1v1h-1zM209 117.5h1v1h-1zM206 117h1v1h-1zM201.5 120h1v1h-1zM178.5 127h1v1h-1zM199 121h1v1h-1zM176 121.5h1v1h-1zM192.5 110h1v1h-1zM191.5 99.5h1v1h-1zM207 83.5h1v1h-1zM194 86.5h1v1h-1zM159.5 96.5h1v1h-1zM189.5 77h1v1h-1zM186.5 137.5h1v1h-1zM207.5 129h1v1h-1zM200.5 77.5h1v1h-1zM172 78.5h1v1h-1zM184 113h1v1h-1zM206 114.5h1v1h-1zM167 133.5h1v1h-1zM206.5 84h1v1h-1zM207.5 135h1v1h-1z" fill="#909090"/>
<path d="M201 120h1v1h-1zM204.5 120h1v1h-1zM210.5 125.5h1v1h-1zM202.5 110h1v1h-1zM206 125h1v1h-1zM209.5 101.5h1v1h-1zM204.5 103.5h1v1h-1zM212 122.5h1v1h-1zM201 116.5h1v1h-1zM208 119.5h1v1h-1zM207.5 120h1v1h-1zM206 104h1v1h-1zM198 123h1v1h-1zM213 128h1v1h-1zM209 97h1v1h-1zM207 121h1v1h-1zM212.5 115.5h1v1h-1zM216.5 107.5h1v1h-1zM210.5 108h1v1h-1zM197.5 116.5h1v1h-1zM204.5 110h1v1h-1zM198 103.5h1v1h-1zM203.5 109h1v1h-1zM205 126h1v1h-1zM205 112.5h1v1h-1zM215 126h1v1h-1zM212.5 118h1v1h-1zM198 104.5h1v1h-1zM201.5 113.5h1v1h-1zM206.5 97.5h1v1h-1zM203.5 134.5h1v1h-1zM214.5 111h1v1h-1zM201 92h1v1h-1zM206 97h1v1h-1zM212.5 112.5h1v1h-1zM202 117.5h1v1h-1zM207 94.5h1v1h-1zM208.5 108h1v1h-1zM197.5 95h1v1h-1zM206 110.5h1v1h-1zM203.5 125.5h1v1h-1zM214 105h1v1h-1zM203 119.5h1v1h-1zM214.5 117.5h1v1h-1zM203.5 111.5h1v1h-1zM209 90.5h1v1h-1zM212 110.5h1v1h-1zM202.5 104.5h1v1h-1zM211 121h1v1h-1zM204 135.5h1v1h-1zM200 102h1v1h-1zM205 128.5h1v1h-1zM201 120.5h1v1h-1zM199 134h1v1h-1zM198 121.5h1v1h-1zM208.5 120.5h1v1h-1zM206.5 110.5h1v1h-1zM203.5 132h1v1h-1zM208.5 113.5h1v1h-1zM217 121.5h1v1h-1zM204.5 113h1v1h-1zM177 128.5h1v1h-1zM163 117.5h1v1h-1zM204 108.5h1v1h-1zM181 129.5h1v1h-1zM177 139.5h1v1h-1zM177 125.5h1v1h-1zM186 114h1v1h-1zM213 117h1v1h-1zM178 128.5h1v1h-1zM194 120h1v1h-1zM215.5 117h1v1h-1zM202.5 115h1v1h-1zM183 122h1v1h-1zM196.5 136h1v1h-1zM196.5 116.5h1v1h-1zM198.5 128.5h1v1h-1zM192 115.5h1v1h-1zM186 134h1v1h-1zM193 117h1v1h-1zM188.5 124h1v1h-1zM203 117h1v1h-1zM188 110h1v1h-1zM200 95.5h1v1h-1zM174.5 133h1v1h-1zM177 141h1v1h-1zM180.5 93.5h1v1h-1zM186.5 112h1v1h-1zM178.5 106h1v1h-1zM159 131.5h1v1h-1zM184 132h1v1h-1zM182.5 113.5h1v1h-1zM189 134h1v1h-1zM184 135h1v1h-1zM184.5 113.5h1v1h-1zM184.5 121h1v1h-1zM194 126h1v1h-1zM184 121.5h1v1h-1zM185 117h1v1h-1zM184.5 109h1v1h-1zM195.5 124h1v1h-1zM196 85.5h1v1h-1zM197 82h1v1h-1zM201 80.5h1v1h-1zM197 84h1v1h-1zM196 92h1v1h-1zM208.5 130h1v1h-1zM159.5 105.5h1v1h-1zM192 124.5h1v1h-1zM157 96.5h1v1h-1zM203 75.5h1v1h-1zM187.5 117h1v1h-1zM167 114h1v1h-1zM179 118.5h1v1h-1zM197.5 123.5h1v1h-1z" fill="#bbbbbb"/>
<path d="M269.5 91h1v1h-1zM265.5 99h1v1h-1zM272 100.5h1v1h-1zM268.5 100h1v1h-1zM279 97h1v1h-1zM265.5 97h1v1h-1zM264.5 97.5h1v1h-1zM273 100h1v1h-1zM261.5 108.5h1v1h-1zM267 97.5h1v1h-1zM265 105h1v1h-1zM263.5 101h1v1h-1zM273.5 97.5h1v1h-1zM269 93.5h1v1h-1zM268 100.5h1v1h-1zM276 87h1v1h-1zM271.5 101.5h1v1h-1zM271 101h1v1h-1zM269 98.5h1v1h-1zM266.5 100.5h1v1h-1zM271.5 91.5h1v1h-1zM266 106h1v1h-1zM269 98h1v1h-1zM265.5 104h1v1h-1zM265 100h1v1h-1zM270 89h1v1h-1zM265.5 107h1v1h-1zM263 94.5h1v1h-1zM266.5 99h1v1h-1zM265 103.5h1v1h-1zM273.5 97.5h1v1h-1zM268 91h1v1h-1zM262.5 99.5h1v1h-1zM276 97.5h1v1h-1zM262 98.5h1v1h-1zM267 98h1v1h-1zM271.5 88.5h1v1h-1zM259.5 105.5h1v1h-1zM268.5 99.5h1v1h-1zM261 106.5h1v1h-1zM271.5 95.5h1v1h-1zM262 101h1v1h-1zM257 99.5h1v1h-1zM277 92h1v1h-1zM273.5 89h1v1h-1zM268 104.5h1v1h-1zM261 101.5h1v1h-1zM274.5 97h1v1h-1zM268 103h1v1h-1zM269.5 96h1v1h-1zM256.5 99h1v1h-1zM265.5 95h1v1h-1zM270.5 105.5h1v1h-1zM266.5 92.5h1v1h-1zM268.5 92.5h1v1h-1zM266 96h1v1h-1zM278 91.5h1v1h-1zM276 99h1v1h-1zM269 100h1v1h-1zM271.5 87h1v1h-1zM260.5 106h1v1h-1zM268.5 92h1v1h-1zM276.5 109.5h1v1h-1zM264.5 97h1v1h-1zM266.5 100h1v1h-1zM270.5 102.5h1v1h-1zM271.5 98h1v1h-1zM270.5 97.5h1v1h-1zM270 102h1v1h-1zM258.5 103.5h1v1h-1zM263.5 105h1v1h-1zM268 91.5h1v1h-1zM261 100.5h1v1h-1zM271.5 89h1v1h-1zM264 101h1v1h-1zM270.5 102h1v1h-1zM266.5 101h1v1h-1zM280.5 94.5h1v1h-1zM263.5 98h1v1h-1zM261.5 107h1v1h-1zM266 104h1v1h-1zM270 95.5h1v1h-1zM269 103.5h1v1h-1zM270.5 98h1v1h-1zM275.5 106.5h1v1h-1zM276.5 94.5h1v1h-1zM262.5 97.5h1v1h-1zM265 102.5h1v1h-1zM264 100.5h1v1h-1zM261 106.5h1v1h-1zM272.5 91.5h1v1h-1zM270.5 97.5h1v1h-1zM266.5 101h1v1h-1zM271.5 103h1v1h-1zM255.5 104h1v1h-1zM265.5 97h1v1h-1zM277.5 95h1v1h-1zM273 96h1v1h-1zM262 100.5h1v1h-1zM276.5 102.5h1v1h-1zM269.5 93.5h1v1h-1zM266.5 102.5h1v1h-1zM278 101.5h1v1h-1zM277 99.5h1v1h-1zM264 96.5h1v1h-1zM253 101.5h1v1h-1zM266 102h1v1h-1zM266 99h1v1h-1zM259 99.5h1v1h-1zM280.5 95h1v1h-1zM278 94h1v1h-1zM267 98.5h1v1h-1zM263 104h1v1h-1zM271 99h1v1h-1zM265 99h1v1h-1zM259 97.5h1v1h-1zM277 93.5h1v1h-1zM275.5 105h1v1h-1zM269.5 101.5h1v1h-1zM272 103h1v1h-1zM271.5 98.5h1v1h-1zM268 101h1v1h-1zM268.5 98.5h1v1h-1zM264 93.5h1v1h-1zM269.5 95h1v1h-1zM259 104h1v1h-1zM276.5 99h1v1h-1zM269 93h1v1h-1zM276.5 86h1v1h-1zM264.5 95h1v1h-1zM273 96.5h1v1h-1zM269.5 100.5h1v1h-1zM276.5 95h1v1h-1zM260.5 103h1v1h-1zM268 98h1v1h-1zM271.5 98.5h1v1h-1zM271.5 103h1v1h-1zM266 96h1v1h-1zM274 96h1v1h-1zM269.5 99h1v1h-1zM271.5 103.5h1v1h-1zM264.5 96.5h1v1h-1zM263 98h1v1h-1zM266.5 92.5h1v1h-1zM266 98h1v1h-1zM270 96h1v1h-1zM260.5 102.5h1v1h-1zM271.5 91h1v1h-1zM273.5 94h1v1h-1zM264 104h1v1h-1zM273.5 87h1v1h-1zM271.5 97h1v1h-1zM272 89.5h1v1h-1zM275.5 96.5h1v1h-1zM267 93h1v1h-1zM271 103h1v1h-1zM270 97.5h1v1h-1zM263 107.5h1v1h-1zM271.5 95h1v1h-1zM265.5 92.5h1v1h-1zM269.5 99h1v1h-1zM269 85.5h1v1h-1zM272.5 100.5h1v1h-1zM266 108.5h1v1h-1zM260 101.5h1v1h-1z" fill="#444"/>
<path d="M280 97.5h1v1h-1zM264.5 91.5h1v1h-1zM266.5 96h1v1h-1zM278.5 100h1v1h-1zM275.5 95h1v1h-1zM266 97h1v1h-1zM275.5 92.5h1v1h-1zM271 102h1v1h-1zM255.5 112h1v1h-1zM260.5 106.5h1v1h-1zM264.5 103h1v1h-1zM270 88.5h1v1h-1zM274 112.5h1v1h-1zM261.5 95h1v1h-1zM263 101.5h1v1h-1zM267 100.5h1v1h-1zM275 105h1v1h-1zM269.5 99h1v1h-1zM276 99h1v1h-1zM270.5 101h1v1h-1zM273.5 94h1v1h-1zM273 91.5h1v1h-1zM273 105.5h1v1h-1zM269 104.5h1v1h-1zM260 100h1v1h-1zM268 98.5h1v1h-1zM259.5 103.5h1v1h-1zM268.5 108h1v1h-1zM268 103h1v1h-1zM251 101.5h1v1h-1zM272.5 99.5h1v1h-1zM273.5 101.5h1v1h-1zM266.5 99.5h1v1h-1zM272 101h1v1h-1zM267.5 103.5h1v1h-1zM272 97h1v1h-1zM280 97.5h1v1h-1zM268 97h1v1h-1zM268.5 106h1v1h-1zM273.5 94h1v1h-1zM271 99.5h1v1h-1zM268.5 91.5h1v1h-1zM267 103.5h1v1h-1zM267 91h1v1h-1zM262 102.5h1v1h-1zM266.5 102.5h1v1h-1zM261.5 109h1v1h-1zM267 98.5h1v1h-1zM266.5 106h1v1h-1zM266.5 102h1v1h-1zM275.5 102.5h1v1h-1zM256.5 108.5h1v1h-1zM272.5 97h1v1h-1zM262.5 103.5h1v1h-1zM269 96h1v1h-1zM275.5 97.5h1v1h-1zM261.5 97h1v1h-1zM272.5 100h1v1h-1zM266.5 92.5h1v1h-1zM267 108h1v1h-1zM275.5 88h1v1h-1zM273 102h1v1h-1zM261 111h1v1h-1zM264.5 104.5h1v1h-1zM263 97h1v1h-1zM270.5 99.5h1v1h-1zM266 100h1v1h-1zM261.5 97h1v1h-1zM258.5 106.5h1v1h-1zM264.5 96h1v1h-1zM267 98.5h1v1h-1zM274 97h1v1h-1zM267.5 98.5h1v1h-1zM266.5 100.5h1v1h-1zM266.5 95h1v1h-1zM260.5 107.5h1v1h-1zM259.5 107.5h1v1h-1zM270 101.5h1v1h-1zM272 96.5h1v1h-1zM267 106h1v1h-1zM269 100h1v1h-1zM261.5 97h1v1h-1zM264 100h1v1h-1zM270.5 109h1v1h-1zM270 104.5h1v1h-1zM270.5 101h1v1h-1zM264.5 94h1v1h-1zM273.5 100h1v1h-1zM276.5 101.5h1v1h-1zM280.5 98.5h1v1h-1zM276 96h1v1h-1zM269.5 94h1v1h-1zM265.5 99.5h1v1h-1zM269.5 97.5h1v1h-1zM265 99.5h1v1h-1zM269.5 100h1v1h-1zM270 94.5h1v1h-1zM263.5 94.5h1v1h-1zM279 95.5h1v1h-1zM266.5 103.5h1v1h-1zM269 111.5h1v1h-1zM266 101h1v1h-1zM264.5 95.5h1v1h-1zM263 96.5h1v1h-1zM265 100h1v1h-1zM264 101h1v1h-1zM263 108.5h1v1h-1zM262 94h1v1h-1zM269.5 94h1v1h-1zM279 92.5h1v1h-1zM266.5 99.5h1v1h-1zM278.5 101.5h1v1h-1zM268.5 100h1v1h-1zM267.5 97.5h1v1h-1zM271 101.5h1v1h-1zM272 97.5h1v1h-1zM270 101h1v1h-1zM264.5 109.5h1v1h-1zM265 107h1v1h-1zM277.5 94h1v1h-1zM273.5 103h1v1h-1zM257.5 106h1v1h-1zM268.5 103h1v1h-1zM263.5 102h1v1h-1zM276 95h1v1h-1zM266.5 102h1v1h-1zM265 98h1v1h-1zM265.5 96h1v1h-1zM279 95.5h1v1h-1zM270 104h1v1h-1zM273.5 95h1v1h-1zM274 96.5h1v1h-1zM276.5 89h1v1h-1zM268.5 101h1v1h-1zM276 100.5h1v1h-1zM272 102.5h1v1h-1zM265.5 99.5h1v1h-1zM269 94.5h1v1h-1zM269 99.5h1v1h-1zM275.5 98h1v1h-1zM271 91.5h1v1h-1zM261.5 95h1v1h-1zM264 96.5h1v1h-1zM269.5 94h1v1h-1zM264 100.5h1v1h-1zM275 93h1v1h-1zM270.5 93h1v1h-1zM276.5 105.5h1v1h-1zM269 89h1v1h-1z" fill="#7a7a7a"/>
<path d="M270.5 102.5h1v1h-1zM263.5 97h1v1h-1zM272 102.5h1v1h-1zM272.5 100h1v1h-1zM267 100h1v1h-1zM268 95.5h1v1h-1zM264.5 101.5h1v1h-1zM273 97h1v1h-1zM270.5 97.5h1v1h-1zM269 98.5h1v1h-1zM266.5 100.5h1v1h-1zM262.5 96.5h1v1h-1zM267 103h1v1h-1zM267.5 103h1v1h-1zM265.5 106h1v1h-1zM280.5 98.5h1v1h-1zM270 90.5h1v1h-1zM267.5 93.5h1v1h-1zM263.5 105.5h1v1h-1zM262.5 103h1v1h-1zM270.5 100.5h1v1h-1zM267 98.5h1v1h-1zM269 95.5h1v1h-1zM277 103h1v1h-1zM265.5 99h1v1h-1zM273.5 95h1v1h-1zM276 94.5h1v1h-1zM264.5 96.5h1v1h-1zM273.5 97h1v1h-1zM265.5 91h1v1h-1zM265.5 99.5h1v1h-1zM265.5 112h1v1h-1zM264 98.5h1v1h-1zM260 109.5h1v1h-1zM265 108h1v1h-1zM264 98.5h1v1h-1zM269 103.5h1v1h-1zM271 96h1v1h-1zM262 104.5h1v1h-1zM267.5 103h1v1h-1zM270 102h1v1h-1zM255.5 104.5h1v1h-1zM267 101.5h1v1h-1zM275 100h1v1h-1zM273.5 89.5h1v1h-1zM253.5 108.5h1v1h-1zM273 105.5h1v1h-1zM275.5 96h1v1h-1zM269 97h1v1h-1zM268.5 97.5h1v1h-1zM265 104h1v1h-1zM281.5 97h1v1h-1zM268.5 96.5h1v1h-1zM279.5 99.5h1v1h-1zM269 98h1v1h-1zM272 99h1v1h-1zM267 94h1v1h-1zM275.5 94h1v1h-1zM271.5 93h1v1h-1zM268 99.5h1v1h-1zM271 95.5h1v1h-1zM274 98.5h1v1h-1zM260.5 94.5h1v1h-1zM268.5 102.5h1v1h-1zM266 101h1v1h-1zM268 103h1v1h-1zM262.5 95.5h1v1h-1zM275.5 97.5h1v1h-1zM274 99.5h1v1h-1zM262 106h1v1h-1zM272 102.5h1v1h-1zM267 101h1v1h-1zM275.5 94h1v1h-1zM267.5 95h1v1h-1zM268 102h1v1h-1zM261 106h1v1h-1zM260 94h1v1h-1zM260.5 106.5h1v1h-1zM268.5 98.5h1v1h-1zM266.5 95h1v1h-1zM271.5 94.5h1v1h-1zM270.5 101h1v1h-1zM272 100.5h1v1h-1zM274.5 92.5h1v1h-1zM274 96h1v1h-1zM270.5 98.5h1v1h-1zM266.5 103.5h1v1h-1zM276.5 98h1v1h-1zM268.5 103h1v1h-1zM270.5 97.5h1v1h-1zM270 87.5h1v1h-1zM274.5 102.5h1v1h-1zM270.5 106.5h1v1h-1zM280.5 92.5h1v1h-1zM263 97h1v1h-1zM266 103h1v1h-1zM262.5 92.5h1v1h-1zM271.5 105.5h1v1h-1zM273 101.5h1v1h-1zM279 101h1v1h-1zM263 103.5h1v1h-1zM263 102h1v1h-1zM268 88.5h1v1h-1zM267 98.5h1v1h-1zM266 98.5h1v1h-1zM260 104h1v1h-1zM258 103h1v1h-1zM267 100.5h1v1h-1zM261.5 102h1v1h-1zM265 101h1v1h-1zM263.5 99h1v1h-1zM276 93.5h1v1h-1zM271.5 104.5h1v1h-1zM273.5 101h1v1h-1zM255.5 112h1v1h-1zM275.5 96h1v1h-1zM263 109.5h1v1h-1zM271.5 94.5h1v1h-1zM275.5 98h1v1h-1zM265.5 93.5h1v1h-1zM267 101h1v1h-1zM268 99.5h1v1h-1zM265.5 94h1v1h-1zM274 97h1v1h-1zM265 101h1v1h-1zM267 102.5h1v1h-1zM275.5 98.5h1v1h-1zM263 86h1v1h-1zM265.5 93.5h1v1h-1zM265 103h1v1h-1zM267 98.5h1v1h-1zM268.5 94h1v1h-1zM272 97.5h1v1h-1zM275 96h1v1h-1zM268 97h1v1h-1zM264.5 106.5h1v1h-1zM266 109.5h1v1h-1zM270.5 100.5h1v1h-1zM266.5 99h1v1h-1zM277.5 99h1v1h-1zM264.5 98h1v1h-1zM270 99.5h1v1h-1zM269 101h1v1h-1zM277 93h1v1h-1zM265 104.5h1v1h-1zM272 94.5h1v1h-1z" fill="#aaa"/>
<path d="M282 90h1v1h-1zM289.5 103.5h1v1h-1zM283 107h1v1h-1zM280.5 116h1v1h-1zM278 101.5h1v1h-1zM287.5 133.5h1v1h-1zM275.5 117h1v1h-1zM284.5 102.5h1v1h-1zM286.5 103h1v1h-1zM282 98h1v1h-1zM280 115h1v1h-1zM285 120.5h1v1h-1zM285 119h1v1h-1zM286 112.5h1v1h-1zM288.5 110h1v1h-1zM280.5 98.5h1v1h-1zM282 103.5h1v1h-1zM284.5 102.5h1v1h-1zM290.5 112h1v1h-1zM291 121.5h1v1h-1zM284 116h1v1h-1zM284.5 101.5h1v1h-1zM290.5 106.5h1v1h-1zM285 123.5h1v1h-1zM279 114.5h1v1h-1zM283.5 106.5h1v1h-1zM292.5 110h1v1h-1zM281 127h1v1h-1zM285 114h1v1h-1zM281.5 100.5h1v1h-1zM292.5 102h1v1h-1zM283 98h1v1h-1zM291.5 97h1v1h-1zM275 104h1v1h-1zM282.5 103.5h1v1h-1zM281 121h1v1h-1zM283.5 89.5h1v1h-1zM282 105h1v1h-1zM286 107h1v1h-1zM282.5 100h1v1h-1zM286.5 93h1v1h-1zM283.5 114h1v1h-1zM280.5 106h1v1h-1zM283 108.5h1v1h-1zM275 106h1v1h-1zM290 127h1v1h-1zM280 107.5h1v1h-1zM287 109.5h1v1h-1zM286.5 127.5h1v1h-1zM290.5 106.5h1v1h-1zM289.5 116h1v1h-1zM286.5 89h1v1h-1zM287.5 108.5h1v1h-1zM285 116h1v1h-1zM289.5 114h1v1h-1zM291 103h1v1h-1zM283.5 120h1v1h-1zM277.5 109.5h1v1h-1zM287 104h1v1h-1zM279.5 96h1v1h-1zM289.5 100h1v1h-1zM287.5 97h1v1h-1zM286 98.5h1v1h-1zM291.5 103.5h1v1h-1zM276.5 105h1v1h-1zM290.5 105h1v1h-1zM288 94h1v1h-1zM283 108h1v1h-1zM279 97.5h1v1h-1zM286 102.5h1v1h-1zM280 115.5h1v1h-1zM298.5 88h1v1h-1zM288.5 103h1v1h-1zM283.5 111h1v1h-1zM278.5 110h1v1h-1zM279 103.5h1v1h-1zM294.5 107h1v1h-1zM279.5 119h1v1h-1zM285.5 93.5h1v1h-1zM283 102h1v1h-1zM288 94.5h1v1h-1zM278.5 121h1v1h-1zM279 108.5h1v1h-1zM283.5 115.5h1v1h-1zM284.5 113.5h1v1h-1zM277.5 119.5h1v1h-1zM280 116h1v1h-1zM286.5 106h1v1h-1zM283 93.5h1v1h-1zM281.5 111h1v1h-1zM279.5 108.5h1v1h-1zM284.5 105.5h1v1h-1zM286 111.5h1v1h-1zM287.5 120.5h1v1h-1zM283 105h1v1h-1zM289.5 97h1v1h-1zM285.5 90h1v1h-1zM278 114.5h1v1h-1zM283.5 101.5h1v1h-1zM291 104.5h1v1h-1zM286 95.5h1v1h-1zM283.5 103h1v1h-1zM291 115.5h1v1h-1zM288 102h1v1h-1zM283.5 122h1v1h-1zM277 117h1v1h-1zM280.5 95.5h1v1h-1zM280.5 133h1v1h-1zM293 96.5h1v1h-1zM285.5 113h1v1h-1zM283 98.5h1v1h-1zM279.5 120.5h1v1h-1zM283.5 92.5h1v1h-1zM281.5 124.5h1v1h-1zM281.5 89.5h1v1h-1zM279.5 105.5h1v1h-1zM276.5 113h1v1h-1zM283 115.5h1v1h-1zM271.5 123h1v1h-1zM286 89.5h1v1h-1zM288.5 122h1v1h-1zM286.5 104h1v1h-1zM283.5 118h1v1h-1zM280.5 98h1v1h-1zM283 105h1v1h-1zM288 114h1v1h-1zM279.5 111h1v1h-1zM289 98.5h1v1h-1zM289.5 111.5h1v1h-1zM273.5 101.5h1v1h-1zM281 115.5h1v1h-1zM287.5 108h1v1h-1zM292.5 89.5h1v1h-1zM283 116.5h1v1h-1zM277 120.5h1v1h-1zM290 107.5h1v1h-1zM289 110.5h1v1h-1zM283 111h1v1h-1zM277 106.5h1v1h-1zM284 100.5h1v1h-1zM281.5 105h1v1h-1zM285.5 109.5h1v1h-1zM292 116h1v1h-1zM277.5 118.5h1v1h-1zM278 109.5h1v1h-1zM279.5 100h1v1h-1zM290.5 103.5h1v1h-1zM282 103h1v1h-1zM281.5 123.5h1v1h-1zM281.5 120.5h1v1h-1zM282 99h1v1h-1zM289 119.5h1v1h-1zM280 98h1v1h-1zM280.5 101.5h1v1h-1zM283.5 105h1v1h-1zM285 99.5h1v1h-1zM279.5 96.5h1v1h-1zM283.5 114h1v1h-1zM278.5 118.5h1v1h-1zM278 114.5h1v1h-1zM282 108h1v1h-1zM271 113.5h1v1h-1zM280.5 111h1v1h-1zM285.5 112.5h1v1h-1zM286 118.5h1v1h-1zM286 91.5h1v1h-1zM287 104h1v1h-1zM288 92h1v1h-1zM285.5 102.5h1v1h-1zM279.5 86h1v1h-1zM289 110h1v1h-1zM288 96h1v1h-1zM282.5 134.5h1v1h-1zM283 125.5h1v1h-1zM282 114.5h1v1h-1zM287 92.5h1v1h-1zM285 92h1v1h-1zM290.5 104.5h1v1h-1zM285 105.5h1v1h-1zM286.5 119.5h1v1h-1zM285 108.5h1v1h-1zM284 115.5h1v1h-1zM287.5 98h1v1h-1zM274.5 107.5h1v1h-1zM284.5 119.5h1v1h-1zM280.5 108h1v1h-1zM281 123h1v1h-1zM289 105h1v1h-1zM283 115h1v1h-1zM287.5 96.5h1v1h-1zM280 113h1v1h-1zM279.5 98.5h1v1h-1zM288 105h1v1h-1zM280 111h1v1h-1zM287.5 108.5h1v1h-1zM281.5 99h1v1h-1zM281 115.5h1v1h-1zM290.5 106.5h1v1h-1zM280 113.5h1v1h-1zM285.5 125.5h1v1h-1zM288.5 111.5h1v1h-1zM275 119h1v1h-1zM289 107.5h1v1h-1zM285.5 95h1v1h-1zM284 114.5h1v1h-1zM281.5 114.5h1v1h-1zM283.5 92h1v1h-1zM282 101.5h1v1h-1zM290.5 120h1v1h-1zM286 99.5h1v1h-1zM287.5 111h1v1h-1zM286 121h1v1h-1zM282.5 100.5h1v1h-1zM285 107.5h1v1h-1zM279.5 109h1v1h-1zM288.5 97h1v1h-1zM283.5 101h1v1h-1zM283 117h1v1h-1zM291 113h1v1h-1zM281.5 112h1v1h-1zM285.5 109.5h1v1h-1zM283.5 84h1v1h-1zM281 119.5h1v1h-1zM292.5 112h1v1h-1zM288.5 96.5h1v1h-1zM285 107h1v1h-1zM269.5 100h1v1h-1zM276.5 96.5h1v1h-1zM279 139h1v1h-1zM270.5 126h1v1h-1zM264 91h1v1h-1zM289.5 115h1v1h-1zM259.5 115h1v1h-1zM262 110.5h1v1h-1zM270.5 132.5h1v1h-1zM263.5 113.5h1v1h-1zM276.5 126h1v1h-1zM286 116h1v1h-1zM268 111.5h1v1h-1zM265 111h1v1h-1zM244 123h1v1h-1zM270 103h1v1h-1zM260 135.5h1v1h-1zM279.5 120h1v1h-1zM297.5 129h1v1h-1zM280.5 110.5h1v1h-1zM273.5 130.5h1v1h-1zM282.5 124.5h1v1h-1zM297.5 120h1v1h-1zM265 123h1v1h-1zM269.5 107.5h1v1h-1zM260.5 106.5h1v1h-1zM267 128.5h1v1h-1zM256 101h1v1h-1zM266 118h1v1h-1zM279.5 99.5h1v1h-1zM276 118h1v1h-1zM253.5 110h1v1h-1zM276.5 116h1v1h-1zM265.5 123h1v1h-1zM262.5 124.5h1v1h-1zM262.5 109.5h1v1h-1zM281.5 91.5h1v1h-1zM280 81.5h1v1h-1zM278.5 86.5h1v1h-1zM291.5 84.5h1v1h-1zM275 81.5h1v1h-1zM282 88h1v1h-1zM288 87h1v1h-1zM287 84h1v1h-1zM284 85.5h1v1h-1zM289 126h1v1h-1zM268 138h1v1h-1zM244 72.5h1v1h-1zM271 115.5h1v1h-1zM266 135h1v1h-1zM247 112h1v1h-1zM265.5 78h1v1h-1zM268.5 88h1v1h-1zM268 77h1v1h-1zM257 133.5h1v1h-1zM283.5 87h1v1h-1zM244 99h1v1h-1zM258 86h1v1h-1zM257.5 95.5h1v1h-1zM285.5 105h1v1h-1zM278 119h1v1h-1zM278.5 97h1v1h-1zM248 99.5h1v1h-1z" fill="#606060"/>
<path d="M277 109.5h1v1h-1zM285 107h1v1h-1zM288.5 133h1v1h-1zM282.5 119.5h1v1h-1zM282.5 108.5h1v1h-1zM290 105.5h1v1h-1zM289.5 85.5h1v1h-1zM288.5 94.5h1v1h-1zM274.5 116.5h1v1h-1zM278 111h1v1h-1zM281 109h1v1h-1zM277 105h1v1h-1zM286.5 126h1v1h-1zM283.5 106h1v1h-1zM287 101h1v1h-1zM290.5 96.5h1v1h-1zM281.5 117h1v1h-1zM287.5 110.5h1v1h-1zM280.5 105h1v1h-1zM286 104h1v1h-1zM281.5 115.5h1v1h-1zM278.5 109h1v1h-1zM284 106.5h1v1h-1zM280.5 101.5h1v1h-1zM291 100.5h1v1h-1zM288.5 117h1v1h-1zM283.5 114h1v1h-1zM286.5 128h1v1h-1zM288.5 118h1v1h-1zM280 105.5h1v1h-1zM288 108.5h1v1h-1zM284.5 112.5h1v1h-1zM277 119.5h1v1h-1zM286.5 124h1v1h-1zM276.5 110h1v1h-1zM288 113h1v1h-1zM277.5 106.5h1v1h-1zM285 90.5h1v1h-1zM282.5 115.5h1v1h-1zM289 107.5h1v1h-1zM281 113.5h1v1h-1zM288 119h1v1h-1zM287.5 96h1v1h-1zM286.5 94.5h1v1h-1zM271 105.5h1v1h-1zM286.5 113.5h1v1h-1zM279 110.5h1v1h-1zM288.5 99h1v1h-1zM281 114h1v1h-1zM283 111.5h1v1h-1zM282.5 103h1v1h-1zM289 118h1v1h-1zM293.5 95h1v1h-1zM275 101.5h1v1h-1zM284 128h1v1h-1zM285 111.5h1v1h-1zM280.5 112.5h1v1h-1zM284.5 111h1v1h-1zM287 93h1v1h-1zM272 122h1v1h-1zM279 97h1v1h-1zM287.5 103h1v1h-1zM292.5 105h1v1h-1zM287.5 111.5h1v1h-1zM293.5 107.5h1v1h-1zM291.5 95h1v1h-1zM283.5 106h1v1h-1zM291 102.5h1v1h-1zM286.5 116h1v1h-1zM281 111h1v1h-1zM286 104h1v1h-1zM278.5 117.5h1v1h-1zM290 115h1v1h-1zM282 115h1v1h-1zM286.5 104h1v1h-1zM289 98.5h1v1h-1zM288.5 116.5h1v1h-1zM280.5 98.5h1v1h-1zM286.5 118h1v1h-1zM293.5 121h1v1h-1zM286.5 98.5h1v1h-1zM278.5 125h1v1h-1zM284.5 113h1v1h-1zM280.5 99h1v1h-1zM280.5 111.5h1v1h-1zM283.5 125h1v1h-1zM283.5 107.5h1v1h-1zM280 135h1v1h-1zM283.5 111h1v1h-1zM285.5 100h1v1h-1zM287.5 87.5h1v1h-1zM281 111h1v1h-1zM286 111.5h1v1h-1zM277.5 105h1v1h-1zM290.5 94h1v1h-1zM280.5 107.5h1v1h-1zM287.5 114h1v1h-1zM287.5 119h1v1h-1zM292.5 97h1v1h-1zM282.5 102h1v1h-1zM284 109h1v1h-1zM290.5 113h1v1h-1zM285 109h1v1h-1zM284 115h1v1h-1zM290 121.5h1v1h-1zM288 107.5h1v1h-1zM286 103.5h1v1h-1zM285.5 99.5h1v1h-1zM287 120h1v1h-1zM278.5 114h1v1h-1zM285.5 119h1v1h-1zM280.5 119.5h1v1h-1zM291.5 97.5h1v1h-1zM281.5 97h1v1h-1zM278 108.5h1v1h-1zM282.5 118h1v1h-1zM289.5 121h1v1h-1zM290 113h1v1h-1zM284.5 92.5h1v1h-1zM287 113h1v1h-1zM278 109.5h1v1h-1zM280.5 105h1v1h-1zM278.5 117h1v1h-1zM283 108h1v1h-1zM287.5 107.5h1v1h-1zM290.5 92h1v1h-1zM281.5 109.5h1v1h-1zM284.5 93h1v1h-1zM293.5 100.5h1v1h-1zM276.5 110.5h1v1h-1zM280 95.5h1v1h-1zM288 92.5h1v1h-1zM282.5 105.5h1v1h-1zM287 92h1v1h-1zM285.5 94.5h1v1h-1zM282 98.5h1v1h-1zM289 111h1v1h-1zM280.5 115h1v1h-1zM289 93.5h1v1h-1zM288 99.5h1v1h-1zM284.5 123h1v1h-1zM287 102.5h1v1h-1zM286 110h1v1h-1zM285.5 100.5h1v1h-1zM291.5 94.5h1v1h-1zM287.5 115.5h1v1h-1zM289.5 108h1v1h-1zM281 120.5h1v1h-1zM281.5 118.5h1v1h-1zM290.5 115h1v1h-1zM286.5 109.5h1v1h-1zM279.5 114.5h1v1h-1zM282.5 111.5h1v1h-1zM293 106h1v1h-1zM281 107h1v1h-1zM284 115h1v1h-1zM290 99h1v1h-1zM279 109.5h1v1h-1zM282 109.5h1v1h-1zM281.5 127h1v1h-1zM283.5 88h1v1h-1zM289 108.5h1v1h-1zM286 108h1v1h-1zM279.5 112h1v1h-1zM283 108h1v1h-1zM284 102.5h1v1h-1zM290 112h1v1h-1zM283 94.5h1v1h-1zM286 113h1v1h-1zM285.5 108h1v1h-1zM286 99h1v1h-1zM286.5 85h1v1h-1zM292 116.5h1v1h-1zM279 105.5h1v1h-1zM284.5 100.5h1v1h-1zM280.5 112.5h1v1h-1zM289.5 125.5h1v1h-1zM291 109.5h1v1h-1zM284.5 117h1v1h-1zM284.5 103.5h1v1h-1zM280.5 116h1v1h-1zM290.5 96.5h1v1h-1zM281.5 111.5h1v1h-1zM286 107h1v1h-1zM286.5 98.5h1v1h-1zM286.5 113.5h1v1h-1zM287.5 103h1v1h-1zM285.5 101h1v1h-1zM290.5 104.5h1v1h-1zM287.5 103h1v1h-1zM283 105h1v1h-1zM282.5 132h1v1h-1zM288.5 117h1v1h-1zM282.5 109.5h1v1h-1zM285.5 104.5h1v1h-1zM281.5 115.5h1v1h-1zM280.5 99.5h1v1h-1zM278 118h1v1h-1zM277.5 116.5h1v1h-1zM285.5 105.5h1v1h-1zM285.5 117h1v1h-1zM285 108.5h1v1h-1zM282 100.5h1v1h-1zM286.5 101h1v1h-1zM276.5 113h1v1h-1zM284.5 107h1v1h-1zM283.5 114h1v1h-1zM287 105h1v1h-1zM277 113h1v1h-1zM285.5 104.5h1v1h-1zM281.5 115.5h1v1h-1zM278.5 116.5h1v1h-1zM285.5 98h1v1h-1zM290 110.5h1v1h-1zM277.5 125h1v1h-1zM254 124h1v1h-1zM273 134h1v1h-1zM272 108h1v1h-1zM260.5 134h1v1h-1zM261.5 97h1v1h-1zM287 87h1v1h-1zM285 96.5h1v1h-1zM246 97h1v1h-1zM263.5 115.5h1v1h-1zM285.5 110.5h1v1h-1zM247.5 106h1v1h-1zM289.5 111h1v1h-1zM278 128.5h1v1h-1zM287 98h1v1h-1zM267.5 108h1v1h-1zM266.5 126h1v1h-1zM265 115.5h1v1h-1zM279 117h1v1h-1zM264 115.5h1v1h-1zM261 116h1v1h-1zM266 114h1v1h-1zM276.5 117.5h1v1h-1zM291 112h1v1h-1zM243 129h1v1h-1zM286.5 110h1v1h-1zM266.5 97.5h1v1h-1zM257.5 126.5h1v1h-1zM251.5 110h1v1h-1zM272.5 123h1v1h-1zM286 80.5h1v1h-1zM279.5 88h1v1h-1zM279 88h1v1h-1zM282 84.5h1v1h-1zM276.5 82.5h1v1h-1zM274.5 84.5h1v1h-1zM277 87h1v1h-1zM277 84h1v1h-1zM287.5 91h1v1h-1zM240.5 135.5h1v1h-1zM285.5 109h1v1h-1zM286 109h1v1h-1zM272 110h1v1h-1zM280.5 112h1v1h-1zM268.5 137.5h1v1h-1zM285 86h1v1h-1zM261.5 93.5h1v1h-1zM261.5 113h1v1h-1zM251.5 139.5h1v1h-1zM278 99h1v1h-1zM267 77.5h1v1h-1zM246.5 74h1v1h-1z" fill="#909090"/>
<path d="M277 121h1v1h-1zM278.5 125h1v1h-1zM278 108.5h1v1h-1zM287 98h1v1h-1zM279.5 124.5h1v1h-1zM282 120h1v1h-1zM283 101.5h1v1h-1zM276 96.5h1v1h-1zM284.5 141h1v1h-1zM279.5 97.5h1v1h-1zM285 114h1v1h-1zM282 94.5h1v1h-1zM281.5 104h1v1h-1zM285 104h1v1h-1zM290.5 117h1v1h-1zM278.5 115.5h1v1h-1zM279 115.5h1v1h-1zM278 120.5h1v1h-1zM277 106.5h1v1h-1zM289 106h1v1h-1zM287.5 101h1v1h-1zM280 111h1v1h-1zM285 111.5h1v1h-1zM285 120.5h1v1h-1zM286.5 94.5h1v1h-1zM282.5 103.5h1v1h-1zM285 107.5h1v1h-1zM286 110.5h1v1h-1zM283 116.5h1v1h-1zM285 101h1v1h-1zM294.5 102.5h1v1h-1zM286.5 103.5h1v1h-1zM287.5 114h1v1h-1zM286 112.5h1v1h-1zM286 103h1v1h-1zM273.5 106.5h1v1h-1zM286.5 104h1v1h-1zM285.5 120.5h1v1h-1zM280 118h1v1h-1zM284 100.5h1v1h-1zM285 116h1v1h-1zM277 123h1v1h-1zM288.5 104.5h1v1h-1zM288 100h1v1h-1zM292.5 109.5h1v1h-1zM292 138.5h1v1h-1zM278.5 108.5h1v1h-1zM282 108h1v1h-1zM285.5 109.5h1v1h-1zM284.5 110.5h1v1h-1zM277.5 88.5h1v1h-1zM284 85h1v1h-1zM285.5 95.5h1v1h-1zM281 117.5h1v1h-1zM288 112.5h1v1h-1zM280 108h1v1h-1zM282.5 110.5h1v1h-1zM280 108h1v1h-1zM284.5 107.5h1v1h-1zM281.5 114.5h1v1h-1zM288 110.5h1v1h-1zM282 132h1v1h-1zM285 126.5h1v1h-1zM287.5 100h1v1h-1zM283 116.5h1v1h-1zM282 100h1v1h-1zM281 109.5h1v1h-1zM284.5 106.5h1v1h-1zM289 105.5h1v1h-1zM279.5 108h1v1h-1zM281 118h1v1h-1zM287 105.5h1v1h-1zM284.5 110.5h1v1h-1zM285.5 101h1v1h-1zM291.5 87h1v1h-1zM294 115h1v1h-1zM288.5 91.5h1v1h-1zM282 102h1v1h-1zM284 95h1v1h-1zM284.5 108h1v1h-1zM292 123.5h1v1h-1zM277 121.5h1v1h-1zM285 108.5h1v1h-1zM281.5 108.5h1v1h-1zM293.5 98.5h1v1h-1zM284.5 105h1v1h-1zM280.5 113h1v1h-1zM285 114.5h1v1h-1zM282 105h1v1h-1zM280 108.5h1v1h-1zM288.5 95.5h1v1h-1zM277 119h1v1h-1zM284.5 125h1v1h-1zM291.5 95h1v1h-1zM283 109.5h1v1h-1zM283 106h1v1h-1zM285.5 111.5h1v1h-1zM291 107.5h1v1h-1zM291.5 104h1v1h-1zM280.5 106.5h1v1h-1zM287.5 118h1v1h-1zM283 101.5h1v1h-1zM281 105h1v1h-1zM282.5 105.5h1v1h-1zM280 114h1v1h-1zM282.5 96h1v1h-1zM296.5 108h1v1h-1zM283 100h1v1h-1zM282 108h1v1h-1zM281.5 115.5h1v1h-1zM282 110.5h1v1h-1zM280 119.5h1v1h-1zM289.5 95.5h1v1h-1zM277 112.5h1v1h-1zM282 111.5h1v1h-1zM284.5 93h1v1h-1zM293 100.5h1v1h-1zM285 131h1v1h-1zM283 124h1v1h-1zM284.5 101.5h1v1h-1zM282 108.5h1v1h-1zM283.5 132.5h1v1h-1zM295 98h1v1h-1zM283 95.5h1v1h-1zM282.5 117h1v1h-1zM283 108.5h1v1h-1zM280.5 114.5h1v1h-1zM286 89.5h1v1h-1zM286.5 96h1v1h-1zM280.5 124h1v1h-1zM288.5 112h1v1h-1zM287 117h1v1h-1zM278 105.5h1v1h-1zM285.5 118.5h1v1h-1zM288 127h1v1h-1zM288 114.5h1v1h-1zM275 101h1v1h-1zM289 94.5h1v1h-1zM288 112h1v1h-1zM286 104.5h1v1h-1zM284.5 107.5h1v1h-1zM286.5 124.5h1v1h-1zM290 114h1v1h-1zM278.5 111.5h1v1h-1zM284.5 104h1v1h-1zM281.5 110h1v1h-1zM282 101h1v1h-1zM289 90.5h1v1h-1zM289.5 106h1v1h-1zM282.5 119h1v1h-1zM284 104.5h1v1h-1zM276 107h1v1h-1zM293 88h1v1h-1zM285 111.5h1v1h-1zM284 94h1v1h-1zM284 114h1v1h-1zM282 98.5h1v1h-1zM284.5 107.5h1v1h-1zM285.5 95h1v1h-1zM279 112h1v1h-1zM273 97h1v1h-1zM287.5 104h1v1h-1zM283.5 112.5h1v1h-1zM284 123h1v1h-1zM286 93h1v1h-1zM281.5 121.5h1v1h-1zM290 107.5h1v1h-1zM284 112.5h1v1h-1zM281 98.5h1v1h-1zM279.5 114.5h1v1h-1zM282 99h1v1h-1zM284.5 108.5h1v1h-1zM286 92h1v1h-1zM278.5 109h1v1h-1zM279 106.5h1v1h-1zM282.5 100h1v1h-1zM274 106.5h1v1h-1zM286 113h1v1h-1zM280.5 113.5h1v1h-1zM284.5 83.5h1v1h-1zM287.5 102h1v1h-1zM289.5 114h1v1h-1zM297.5 107.5h1v1h-1zM289 99.5h1v1h-1zM285.5 105h1v1h-1zM288.5 106h1v1h-1zM289 90.5h1v1h-1zM282.5 116.5h1v1h-1zM286.5 112h1v1h-1zM294 89.5h1v1h-1zM285 113.5h1v1h-1zM280 116.5h1v1h-1zM285.5 105h1v1h-1zM282 106.5h1v1h-1zM285 118h1v1h-1zM280.5 107.5h1v1h-1zM292 119h1v1h-1zM281 120.5h1v1h-1zM284.5 113h1v1h-1zM284 104.5h1v1h-1zM284 113h1v1h-1zM281.5 106.5h1v1h-1zM286 127h1v1h-1zM287 88h1v1h-1zM286 91.5h1v1h-1zM280.5 114.5h1v1h-1zM281.5 91h1v1h-1zM290 124h1v1h-1zM263.5 128.5h1v1h-1zM274 124.5h1v1h-1zM269 131h1v1h-1zM272 125h1v1h-1zM284 118h1v1h-1zM280 119h1v1h-1zM275 108.5h1v1h-1zM277.5 132.5h1v1h-1zM268 126.5h1v1h-1zM274 100.5h1v1h-1zM271.5 107h1v1h-1zM269 107h1v1h-1zM256.5 115h1v1h-1zM283.5 118h1v1h-1zM259 117.5h1v1h-1zM270.5 132.5h1v1h-1zM290.5 107.5h1v1h-1zM272.5 108h1v1h-1zM262.5 92h1v1h-1zM268 115h1v1h-1zM264 93.5h1v1h-1zM274 112h1v1h-1zM290 111h1v1h-1zM273.5 110.5h1v1h-1zM287.5 105h1v1h-1zM275.5 106h1v1h-1zM268 117h1v1h-1zM261.5 105.5h1v1h-1zM269.5 101.5h1v1h-1zM273.5 113h1v1h-1zM259.5 107.5h1v1h-1zM264 113.5h1v1h-1zM270.5 113h1v1h-1zM266.5 117h1v1h-1zM286 119h1v1h-1zM274.5 107h1v1h-1zM270.5 134.5h1v1h-1zM268 107.5h1v1h-1zM263.5 128.5h1v1h-1zM256.5 122.5h1v1h-1zM255.5 118h1v1h-1zM273.5 130h1v1h-1zM304.5 115h1v1h-1zM272 115.5h1v1h-1zM263.5 104h1v1h-1zM275.5 113h1v1h-1zM263.5 134h1v1h-1zM270 121h1v1h-1zM268.5 114.5h1v1h-1zM276 129h1v1h-1zM285.5 79.5h1v1h-1zM278.5 85.5h1v1h-1zM288 82h1v1h-1zM290 83h1v1h-1zM274 85.5h1v1h-1zM283 82h1v1h-1zM286 84.5h1v1h-1zM282 83h1v1h-1zM278 81h1v1h-1zM243 82h1v1h-1zM279 118.5h1v1h-1zM260.5 72.5h1v1h-1zM284 93.5h1v1h-1zM261.5 85.5h1v1h-1zM259 97.5h1v1h-1zM261.5 132.5h1v1h-1zM256.5 73h1v1h-1zM282 114h1v1h-1zM285 82h1v1h-1zM286.5 116h1v1h-1zM285.5 132h1v1h-1zM247 94.5h1v1h-1z" fill="#bbbbbb"/>
<text x="89.76" y="57.00" font-size="11.3" textLength="41.43" lengthAdjust="spacingAndGlyphs" fill="#1a1a1a">Control</text>
<text x="172.61" y="57.00" font-size="11.3" textLength="39.13" lengthAdjust="spacingAndGlyphs" fill="#1a1a1a">IJD-NB</text>
<text x="251.91" y="57.00" font-size="11.3" textLength="45.70" lengthAdjust="spacingAndGlyphs" fill="#1a1a1a">IJD-TNF</text>
<text x="8.22" y="83.80" font-size="10.8" textLength="57.12" lengthAdjust="spacingAndGlyphs" fill="#1a1a1a">Transitional</text>
<text x="29.08" y="96.90" font-size="10.8" textLength="35.76" lengthAdjust="spacingAndGlyphs" fill="#1a1a1a">Mature</text>
<rect x="71.4" y="62.3" width="78.4" height="81.1" fill="none" stroke="#000" stroke-width="2.1"/>
<rect x="153.4" y="62.3" width="78.4" height="81.1" fill="none" stroke="#000" stroke-width="2.1"/>
<rect x="235.8" y="62.3" width="78.1" height="81.1" fill="none" stroke="#000" stroke-width="2.1"/>
<path d="M114.4,68.2L126.3,77.8L110.0,96.1L99.2,86.9Z" fill="none" stroke="#000" stroke-width="2" stroke-linejoin="round"/>
<path d="M98.8,87.9L108.4,95.1L103.6,103.8L92.5,111.9L84.8,106.0L86.5,98.0Z" fill="none" stroke="#000" stroke-width="2" stroke-linejoin="round"/>
<path d="M209.4,67.0L222.1,76.7L205.1,94.7L193.9,86.0Z" fill="none" stroke="#000" stroke-width="2" stroke-linejoin="round"/>
<path d="M193.9,87.1L204.2,94.7L199.6,103.3L188.7,112.0L180.9,106.5L181.7,98.7Z" fill="none" stroke="#000" stroke-width="2" stroke-linejoin="round"/>
<path d="M287.7,68.4L299.3,77.9L283.0,96.4L272.1,88.8Z" fill="none" stroke="#000" stroke-width="2" stroke-linejoin="round"/>
<path d="M272.1,89.2L282.5,96.4L275.1,107.3L265.7,113.0L257.8,106.8L258.8,99.5Z" fill="none" stroke="#000" stroke-width="2" stroke-linejoin="round"/>
<text x="89.16" y="75.80" font-size="10.5" textLength="15.93" lengthAdjust="spacingAndGlyphs" fill="#1a1a1a">5%</text>
<text x="76.14" y="124.10" font-size="10.5" textLength="22.58" lengthAdjust="spacingAndGlyphs" fill="#1a1a1a">29%</text>
<text x="173.72" y="75.70" font-size="10.5" textLength="26.27" lengthAdjust="spacingAndGlyphs" fill="#1a1a1a">2.9%</text>
<text x="168.83" y="123.80" font-size="10.5" textLength="21.98" lengthAdjust="spacingAndGlyphs" fill="#1a1a1a">47%</text>
<text x="253.14" y="75.70" font-size="10.5" textLength="26.26" lengthAdjust="spacingAndGlyphs" fill="#1a1a1a">3.7%</text>
<text x="244.84" y="124.20" font-size="10.5" textLength="23.08" lengthAdjust="spacingAndGlyphs" fill="#1a1a1a">30%</text>
<text transform="translate(66.00,133.00) rotate(-90)" x="-0.59" y="0" font-size="12.4" textLength="29.98" lengthAdjust="spacingAndGlyphs" fill="#1a1a1a">CD38</text>
<text x="106.31" y="160.00" font-size="11.6" textLength="30.06" lengthAdjust="spacingAndGlyphs" fill="#1a1a1a">CD24</text>
<line x1="141.00" y1="156.30" x2="256.00" y2="156.30" stroke="#000" stroke-width="1.6" stroke-linecap="butt"/>
<path d="M248.6,152.8L255.7,156.3L248.6,159.8" fill="none" stroke="#000" stroke-width="2"/>
<line x1="67.00" y1="80.30" x2="101.00" y2="80.30" stroke="#000" stroke-width="1.1" stroke-linecap="butt"/>
<path d="M96.3,77.4L102,80.3L96.3,83.2" fill="none" stroke="#000" stroke-width="1.2"/>
<line x1="67.00" y1="94.10" x2="86.00" y2="94.10" stroke="#000" stroke-width="1.4" stroke-linecap="butt"/>
<path d="M80.2,90.8L86.7,94.1L80.2,97.4" fill="none" stroke="#000" stroke-width="1.3"/>
</svg></body></html>
